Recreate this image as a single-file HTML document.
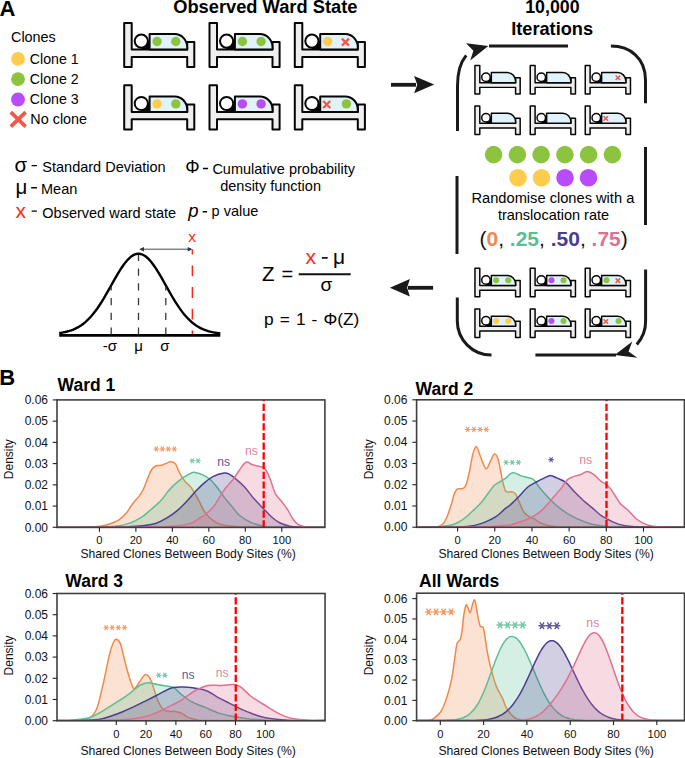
<!DOCTYPE html>
<html><head><meta charset="utf-8"><style>
html,body{margin:0;padding:0;background:#fff;}
svg{display:block;}
text{font-family:"Liberation Sans", sans-serif;}
</style></head><body>
<svg width="685" height="758" viewBox="0 0 685 758">
<rect width="685" height="758" fill="#fff"/>
<text x="-0.4" y="16.1" font-size="22" font-weight="bold" fill="#000" text-anchor="start" >A</text>
<text x="265.3" y="13.3" font-size="18.3" font-weight="bold" fill="#000" text-anchor="middle" >Observed Ward State</text>
<text x="11" y="41.7" font-size="14.4" font-weight="normal" fill="#000" text-anchor="start" >Clones</text>
<circle cx="18" cy="58.9" r="6.9" fill="#FFCC4D"/>
<text x="29.8" y="63.8" font-size="14.2" font-weight="normal" fill="#000" text-anchor="start" >Clone 1</text>
<circle cx="18" cy="79.2" r="6.9" fill="#8CC43F"/>
<text x="29.8" y="84.10000000000001" font-size="14.2" font-weight="normal" fill="#000" text-anchor="start" >Clone 2</text>
<circle cx="18" cy="99.5" r="6.9" fill="#B94CFA"/>
<text x="29.8" y="104.4" font-size="14.2" font-weight="normal" fill="#000" text-anchor="start" >Clone 3</text>
<path d="M10.8,112.2 L25.6,126.6 M25.6,112.2 L10.8,126.6" stroke="#F2574A" stroke-width="3.7"/>
<text x="30.3" y="123.5" font-size="14.4" font-weight="normal" fill="#000" text-anchor="start" >No clone</text>
<g transform="translate(123.5,21.9) scale(1.0)"><path d="M0.70,1.00 L8.20,1.00 L8.20,27.70 L63.70,27.70 L63.70,20.10 L70.80,20.10 L70.80,45.10 L63.70,45.10 L63.70,35.00 L8.20,35.00 L8.20,45.10 L0.70,45.10 Z" fill="#EFEFEF" stroke="#050505" stroke-width="2.0" stroke-linejoin="round"/><rect x="17.8" y="19.2" width="9" height="8.5" fill="#050505"/><path d="M26.1,27.7 L26.1,12.1 L51.1,12.1 A12.6,13.3 0 0 1 63.7,25.4 L63.7,27.7 Z" fill="#E1F3FA" stroke="#050505" stroke-width="2.0" stroke-linejoin="round"/><circle cx="17.8" cy="19.2" r="6.6" fill="#fff" stroke="#050505" stroke-width="2.0"/><circle cx="33.6" cy="19.6" r="4.7" fill="#8CC43F"/><circle cx="52.3" cy="19.6" r="4.7" fill="#8CC43F"/></g>
<g transform="translate(208.8,21.9) scale(1.0)"><path d="M0.70,1.00 L8.20,1.00 L8.20,27.70 L63.70,27.70 L63.70,20.10 L70.80,20.10 L70.80,45.10 L63.70,45.10 L63.70,35.00 L8.20,35.00 L8.20,45.10 L0.70,45.10 Z" fill="#EFEFEF" stroke="#050505" stroke-width="2.0" stroke-linejoin="round"/><rect x="17.8" y="19.2" width="9" height="8.5" fill="#050505"/><path d="M26.1,27.7 L26.1,12.1 L51.1,12.1 A12.6,13.3 0 0 1 63.7,25.4 L63.7,27.7 Z" fill="#E1F3FA" stroke="#050505" stroke-width="2.0" stroke-linejoin="round"/><circle cx="17.8" cy="19.2" r="6.6" fill="#fff" stroke="#050505" stroke-width="2.0"/><circle cx="33.6" cy="19.6" r="4.7" fill="#8CC43F"/><circle cx="52.3" cy="19.6" r="4.7" fill="#8CC43F"/></g>
<g transform="translate(294.1,21.9) scale(1.0)"><path d="M0.70,1.00 L8.20,1.00 L8.20,27.70 L63.70,27.70 L63.70,20.10 L70.80,20.10 L70.80,45.10 L63.70,45.10 L63.70,35.00 L8.20,35.00 L8.20,45.10 L0.70,45.10 Z" fill="#EFEFEF" stroke="#050505" stroke-width="2.0" stroke-linejoin="round"/><rect x="17.8" y="19.2" width="9" height="8.5" fill="#050505"/><path d="M26.1,27.7 L26.1,12.1 L51.1,12.1 A12.6,13.3 0 0 1 63.7,25.4 L63.7,27.7 Z" fill="#E1F3FA" stroke="#050505" stroke-width="2.0" stroke-linejoin="round"/><circle cx="17.8" cy="19.2" r="6.6" fill="#fff" stroke="#050505" stroke-width="2.0"/><circle cx="33.6" cy="19.6" r="4.7" fill="#FFCC4D"/><path d="M47.80,16.70 L54.80,23.70 M54.80,16.70 L47.80,23.70" stroke="#F2574A" stroke-width="2.3" stroke-linecap="butt"/></g>
<g transform="translate(123.5,84.3) scale(1.0)"><path d="M0.70,1.00 L8.20,1.00 L8.20,27.70 L63.70,27.70 L63.70,20.10 L70.80,20.10 L70.80,45.10 L63.70,45.10 L63.70,35.00 L8.20,35.00 L8.20,45.10 L0.70,45.10 Z" fill="#EFEFEF" stroke="#050505" stroke-width="2.0" stroke-linejoin="round"/><rect x="17.8" y="19.2" width="9" height="8.5" fill="#050505"/><path d="M26.1,27.7 L26.1,12.1 L51.1,12.1 A12.6,13.3 0 0 1 63.7,25.4 L63.7,27.7 Z" fill="#E1F3FA" stroke="#050505" stroke-width="2.0" stroke-linejoin="round"/><circle cx="17.8" cy="19.2" r="6.6" fill="#fff" stroke="#050505" stroke-width="2.0"/><circle cx="33.6" cy="19.6" r="4.7" fill="#FFCC4D"/><circle cx="52.3" cy="19.6" r="4.7" fill="#8CC43F"/></g>
<g transform="translate(208.8,84.3) scale(1.0)"><path d="M0.70,1.00 L8.20,1.00 L8.20,27.70 L63.70,27.70 L63.70,20.10 L70.80,20.10 L70.80,45.10 L63.70,45.10 L63.70,35.00 L8.20,35.00 L8.20,45.10 L0.70,45.10 Z" fill="#EFEFEF" stroke="#050505" stroke-width="2.0" stroke-linejoin="round"/><rect x="17.8" y="19.2" width="9" height="8.5" fill="#050505"/><path d="M26.1,27.7 L26.1,12.1 L51.1,12.1 A12.6,13.3 0 0 1 63.7,25.4 L63.7,27.7 Z" fill="#E1F3FA" stroke="#050505" stroke-width="2.0" stroke-linejoin="round"/><circle cx="17.8" cy="19.2" r="6.6" fill="#fff" stroke="#050505" stroke-width="2.0"/><circle cx="33.6" cy="19.6" r="4.7" fill="#B94CFA"/><circle cx="52.3" cy="19.6" r="4.7" fill="#B94CFA"/></g>
<g transform="translate(294.1,84.3) scale(1.0)"><path d="M0.70,1.00 L8.20,1.00 L8.20,27.70 L63.70,27.70 L63.70,20.10 L70.80,20.10 L70.80,45.10 L63.70,45.10 L63.70,35.00 L8.20,35.00 L8.20,45.10 L0.70,45.10 Z" fill="#EFEFEF" stroke="#050505" stroke-width="2.0" stroke-linejoin="round"/><rect x="17.8" y="19.2" width="9" height="8.5" fill="#050505"/><path d="M26.1,27.7 L26.1,12.1 L51.1,12.1 A12.6,13.3 0 0 1 63.7,25.4 L63.7,27.7 Z" fill="#E1F3FA" stroke="#050505" stroke-width="2.0" stroke-linejoin="round"/><circle cx="17.8" cy="19.2" r="6.6" fill="#fff" stroke="#050505" stroke-width="2.0"/><path d="M29.10,16.70 L36.10,23.70 M36.10,16.70 L29.10,23.70" stroke="#F2574A" stroke-width="2.3" stroke-linecap="butt"/><circle cx="52.3" cy="19.6" r="4.7" fill="#8CC43F"/></g>
<path d="M391,84.8 L416,84.8" stroke="#1a1a1a" stroke-width="3.8"/>
<path d="M434.2,84.6 L414.1,76 L417.3,84.8 L414.1,93.3 Z" fill="#1a1a1a"/>
<path d="M408,287.8 L433.1,287.8" stroke="#1a1a1a" stroke-width="3.8"/>
<path d="M389.9,287.8 L409.9,279 L407.1,287.8 L409.9,296.6 Z" fill="#1a1a1a"/>
<text x="552.4" y="13.2" font-size="17.8" font-weight="bold" fill="#000" text-anchor="middle" >10,000</text>
<text x="552.1" y="34.7" font-size="18.2" font-weight="bold" fill="#000" text-anchor="middle" >Iterations</text>
<path d="M489,46.1 L568,46.1" stroke="#1a1a1a" stroke-width="3.0" fill="none"/>
<path d="M457.5,131 L457.5,86 C457.5,72 460.3,62.5 466.2,55.4" stroke="#1a1a1a" stroke-width="3.0" fill="none"/>
<path d="M488.3,46.1 L466.1,43.2 L473.4,50.7 L470.2,60.4 Z" fill="#1a1a1a"/>
<path d="M610.9,46.1 C630,46.1 645.5,58 645.5,80 L645.5,103.3" stroke="#1a1a1a" stroke-width="3.0" fill="none"/>
<path d="M645.5,147 L645.5,225" stroke="#1a1a1a" stroke-width="3.0" fill="none"/>
<path d="M457.0,176 L457.0,254" stroke="#1a1a1a" stroke-width="3.0" fill="none"/>
<path d="M645.6,269.4 L645.6,321.1 A34,34 0 0 1 636.8,344.4" stroke="#1a1a1a" stroke-width="3.0" fill="none"/>
<path d="M457.3,297.4 L457.3,321.1 A34,34 0 0 0 491.3,355.1 L491.5,355.1" stroke="#1a1a1a" stroke-width="3.0" fill="none"/>
<path d="M535.4,355.1 L616,355.1" stroke="#1a1a1a" stroke-width="3.0" fill="none"/>
<path d="M614.7,354.9 L632.3,341.4 L628.5,351.5 L637.4,357.8 Z" fill="#1a1a1a"/>
<g transform="translate(474.5,64.8) scale(0.645)"><path d="M0.70,1.00 L8.20,1.00 L8.20,27.70 L63.70,27.70 L63.70,20.10 L70.80,20.10 L70.80,45.10 L63.70,45.10 L63.70,35.00 L8.20,35.00 L8.20,45.10 L0.70,45.10 Z" fill="#EFEFEF" stroke="#050505" stroke-width="2.3" stroke-linejoin="round"/><rect x="17.8" y="19.2" width="9" height="8.5" fill="#050505"/><path d="M26.1,27.7 L26.1,12.1 L51.1,12.1 A12.6,13.3 0 0 1 63.7,25.4 L63.7,27.7 Z" fill="#E1F3FA" stroke="#050505" stroke-width="2.3" stroke-linejoin="round"/><circle cx="17.8" cy="19.2" r="6.6" fill="#fff" stroke="#050505" stroke-width="2.3"/></g>
<g transform="translate(529.8,64.8) scale(0.645)"><path d="M0.70,1.00 L8.20,1.00 L8.20,27.70 L63.70,27.70 L63.70,20.10 L70.80,20.10 L70.80,45.10 L63.70,45.10 L63.70,35.00 L8.20,35.00 L8.20,45.10 L0.70,45.10 Z" fill="#EFEFEF" stroke="#050505" stroke-width="2.3" stroke-linejoin="round"/><rect x="17.8" y="19.2" width="9" height="8.5" fill="#050505"/><path d="M26.1,27.7 L26.1,12.1 L51.1,12.1 A12.6,13.3 0 0 1 63.7,25.4 L63.7,27.7 Z" fill="#E1F3FA" stroke="#050505" stroke-width="2.3" stroke-linejoin="round"/><circle cx="17.8" cy="19.2" r="6.6" fill="#fff" stroke="#050505" stroke-width="2.3"/></g>
<g transform="translate(584.8,64.8) scale(0.645)"><path d="M0.70,1.00 L8.20,1.00 L8.20,27.70 L63.70,27.70 L63.70,20.10 L70.80,20.10 L70.80,45.10 L63.70,45.10 L63.70,35.00 L8.20,35.00 L8.20,45.10 L0.70,45.10 Z" fill="#EFEFEF" stroke="#050505" stroke-width="2.3" stroke-linejoin="round"/><rect x="17.8" y="19.2" width="9" height="8.5" fill="#050505"/><path d="M26.1,27.7 L26.1,12.1 L51.1,12.1 A12.6,13.3 0 0 1 63.7,25.4 L63.7,27.7 Z" fill="#E1F3FA" stroke="#050505" stroke-width="2.3" stroke-linejoin="round"/><circle cx="17.8" cy="19.2" r="6.6" fill="#fff" stroke="#050505" stroke-width="2.3"/><path d="M47.80,16.70 L54.80,23.70 M54.80,16.70 L47.80,23.70" stroke="#F2574A" stroke-width="2.3" stroke-linecap="butt"/></g>
<g transform="translate(474.5,105.4) scale(0.645)"><path d="M0.70,1.00 L8.20,1.00 L8.20,27.70 L63.70,27.70 L63.70,20.10 L70.80,20.10 L70.80,45.10 L63.70,45.10 L63.70,35.00 L8.20,35.00 L8.20,45.10 L0.70,45.10 Z" fill="#EFEFEF" stroke="#050505" stroke-width="2.3" stroke-linejoin="round"/><rect x="17.8" y="19.2" width="9" height="8.5" fill="#050505"/><path d="M26.1,27.7 L26.1,12.1 L51.1,12.1 A12.6,13.3 0 0 1 63.7,25.4 L63.7,27.7 Z" fill="#E1F3FA" stroke="#050505" stroke-width="2.3" stroke-linejoin="round"/><circle cx="17.8" cy="19.2" r="6.6" fill="#fff" stroke="#050505" stroke-width="2.3"/></g>
<g transform="translate(529.8,105.4) scale(0.645)"><path d="M0.70,1.00 L8.20,1.00 L8.20,27.70 L63.70,27.70 L63.70,20.10 L70.80,20.10 L70.80,45.10 L63.70,45.10 L63.70,35.00 L8.20,35.00 L8.20,45.10 L0.70,45.10 Z" fill="#EFEFEF" stroke="#050505" stroke-width="2.3" stroke-linejoin="round"/><rect x="17.8" y="19.2" width="9" height="8.5" fill="#050505"/><path d="M26.1,27.7 L26.1,12.1 L51.1,12.1 A12.6,13.3 0 0 1 63.7,25.4 L63.7,27.7 Z" fill="#E1F3FA" stroke="#050505" stroke-width="2.3" stroke-linejoin="round"/><circle cx="17.8" cy="19.2" r="6.6" fill="#fff" stroke="#050505" stroke-width="2.3"/></g>
<g transform="translate(584.8,105.4) scale(0.645)"><path d="M0.70,1.00 L8.20,1.00 L8.20,27.70 L63.70,27.70 L63.70,20.10 L70.80,20.10 L70.80,45.10 L63.70,45.10 L63.70,35.00 L8.20,35.00 L8.20,45.10 L0.70,45.10 Z" fill="#EFEFEF" stroke="#050505" stroke-width="2.3" stroke-linejoin="round"/><rect x="17.8" y="19.2" width="9" height="8.5" fill="#050505"/><path d="M26.1,27.7 L26.1,12.1 L51.1,12.1 A12.6,13.3 0 0 1 63.7,25.4 L63.7,27.7 Z" fill="#E1F3FA" stroke="#050505" stroke-width="2.3" stroke-linejoin="round"/><circle cx="17.8" cy="19.2" r="6.6" fill="#fff" stroke="#050505" stroke-width="2.3"/><path d="M29.10,16.70 L36.10,23.70 M36.10,16.70 L29.10,23.70" stroke="#F2574A" stroke-width="2.3" stroke-linecap="butt"/></g>
<g transform="translate(474.5,267.6) scale(0.645)"><path d="M0.70,1.00 L8.20,1.00 L8.20,27.70 L63.70,27.70 L63.70,20.10 L70.80,20.10 L70.80,45.10 L63.70,45.10 L63.70,35.00 L8.20,35.00 L8.20,45.10 L0.70,45.10 Z" fill="#EFEFEF" stroke="#050505" stroke-width="2.3" stroke-linejoin="round"/><rect x="17.8" y="19.2" width="9" height="8.5" fill="#050505"/><path d="M26.1,27.7 L26.1,12.1 L51.1,12.1 A12.6,13.3 0 0 1 63.7,25.4 L63.7,27.7 Z" fill="#E1F3FA" stroke="#050505" stroke-width="2.3" stroke-linejoin="round"/><circle cx="17.8" cy="19.2" r="6.6" fill="#fff" stroke="#050505" stroke-width="2.3"/><circle cx="33.6" cy="19.6" r="4.7" fill="#8CC43F"/><circle cx="52.3" cy="19.6" r="4.7" fill="#8CC43F"/></g>
<g transform="translate(529.8,267.6) scale(0.645)"><path d="M0.70,1.00 L8.20,1.00 L8.20,27.70 L63.70,27.70 L63.70,20.10 L70.80,20.10 L70.80,45.10 L63.70,45.10 L63.70,35.00 L8.20,35.00 L8.20,45.10 L0.70,45.10 Z" fill="#EFEFEF" stroke="#050505" stroke-width="2.3" stroke-linejoin="round"/><rect x="17.8" y="19.2" width="9" height="8.5" fill="#050505"/><path d="M26.1,27.7 L26.1,12.1 L51.1,12.1 A12.6,13.3 0 0 1 63.7,25.4 L63.7,27.7 Z" fill="#E1F3FA" stroke="#050505" stroke-width="2.3" stroke-linejoin="round"/><circle cx="17.8" cy="19.2" r="6.6" fill="#fff" stroke="#050505" stroke-width="2.3"/><circle cx="33.6" cy="19.6" r="4.7" fill="#B94CFA"/><circle cx="52.3" cy="19.6" r="4.7" fill="#8CC43F"/></g>
<g transform="translate(584.8,267.6) scale(0.645)"><path d="M0.70,1.00 L8.20,1.00 L8.20,27.70 L63.70,27.70 L63.70,20.10 L70.80,20.10 L70.80,45.10 L63.70,45.10 L63.70,35.00 L8.20,35.00 L8.20,45.10 L0.70,45.10 Z" fill="#EFEFEF" stroke="#050505" stroke-width="2.3" stroke-linejoin="round"/><rect x="17.8" y="19.2" width="9" height="8.5" fill="#050505"/><path d="M26.1,27.7 L26.1,12.1 L51.1,12.1 A12.6,13.3 0 0 1 63.7,25.4 L63.7,27.7 Z" fill="#E1F3FA" stroke="#050505" stroke-width="2.3" stroke-linejoin="round"/><circle cx="17.8" cy="19.2" r="6.6" fill="#fff" stroke="#050505" stroke-width="2.3"/><circle cx="33.6" cy="19.6" r="4.7" fill="#8CC43F"/><path d="M47.80,16.70 L54.80,23.70 M54.80,16.70 L47.80,23.70" stroke="#F2574A" stroke-width="2.3" stroke-linecap="butt"/></g>
<g transform="translate(474.5,308.4) scale(0.645)"><path d="M0.70,1.00 L8.20,1.00 L8.20,27.70 L63.70,27.70 L63.70,20.10 L70.80,20.10 L70.80,45.10 L63.70,45.10 L63.70,35.00 L8.20,35.00 L8.20,45.10 L0.70,45.10 Z" fill="#EFEFEF" stroke="#050505" stroke-width="2.3" stroke-linejoin="round"/><rect x="17.8" y="19.2" width="9" height="8.5" fill="#050505"/><path d="M26.1,27.7 L26.1,12.1 L51.1,12.1 A12.6,13.3 0 0 1 63.7,25.4 L63.7,27.7 Z" fill="#E1F3FA" stroke="#050505" stroke-width="2.3" stroke-linejoin="round"/><circle cx="17.8" cy="19.2" r="6.6" fill="#fff" stroke="#050505" stroke-width="2.3"/><circle cx="33.6" cy="19.6" r="4.7" fill="#FFCC4D"/><circle cx="52.3" cy="19.6" r="4.7" fill="#FFCC4D"/></g>
<g transform="translate(529.8,308.4) scale(0.645)"><path d="M0.70,1.00 L8.20,1.00 L8.20,27.70 L63.70,27.70 L63.70,20.10 L70.80,20.10 L70.80,45.10 L63.70,45.10 L63.70,35.00 L8.20,35.00 L8.20,45.10 L0.70,45.10 Z" fill="#EFEFEF" stroke="#050505" stroke-width="2.3" stroke-linejoin="round"/><rect x="17.8" y="19.2" width="9" height="8.5" fill="#050505"/><path d="M26.1,27.7 L26.1,12.1 L51.1,12.1 A12.6,13.3 0 0 1 63.7,25.4 L63.7,27.7 Z" fill="#E1F3FA" stroke="#050505" stroke-width="2.3" stroke-linejoin="round"/><circle cx="17.8" cy="19.2" r="6.6" fill="#fff" stroke="#050505" stroke-width="2.3"/><circle cx="33.6" cy="19.6" r="4.7" fill="#B94CFA"/><circle cx="52.3" cy="19.6" r="4.7" fill="#8CC43F"/></g>
<g transform="translate(584.8,308.4) scale(0.645)"><path d="M0.70,1.00 L8.20,1.00 L8.20,27.70 L63.70,27.70 L63.70,20.10 L70.80,20.10 L70.80,45.10 L63.70,45.10 L63.70,35.00 L8.20,35.00 L8.20,45.10 L0.70,45.10 Z" fill="#EFEFEF" stroke="#050505" stroke-width="2.3" stroke-linejoin="round"/><rect x="17.8" y="19.2" width="9" height="8.5" fill="#050505"/><path d="M26.1,27.7 L26.1,12.1 L51.1,12.1 A12.6,13.3 0 0 1 63.7,25.4 L63.7,27.7 Z" fill="#E1F3FA" stroke="#050505" stroke-width="2.3" stroke-linejoin="round"/><circle cx="17.8" cy="19.2" r="6.6" fill="#fff" stroke="#050505" stroke-width="2.3"/><path d="M29.10,16.70 L36.10,23.70 M36.10,16.70 L29.10,23.70" stroke="#F2574A" stroke-width="2.3" stroke-linecap="butt"/><circle cx="52.3" cy="19.6" r="4.7" fill="#8CC43F"/></g>
<circle cx="493.6" cy="154.6" r="8.8" fill="#8CC43F"/>
<circle cx="517.4" cy="154.6" r="8.8" fill="#8CC43F"/>
<circle cx="541.1" cy="154.6" r="8.8" fill="#8CC43F"/>
<circle cx="564.9" cy="154.6" r="8.8" fill="#8CC43F"/>
<circle cx="588.6" cy="154.6" r="8.8" fill="#8CC43F"/>
<circle cx="612.4" cy="154.6" r="8.8" fill="#8CC43F"/>
<circle cx="518.0" cy="177.8" r="8.8" fill="#FFCC4D"/>
<circle cx="541.5" cy="177.8" r="8.8" fill="#FFCC4D"/>
<circle cx="565.0" cy="177.8" r="8.8" fill="#B94CFA"/>
<circle cx="588.5" cy="177.8" r="8.8" fill="#B94CFA"/>
<text x="552.9" y="203.3" font-size="14.65" font-weight="normal" fill="#000" text-anchor="middle" >Randomise clones with a</text>
<text x="553.5" y="220.3" font-size="14.5" font-weight="normal" fill="#000" text-anchor="middle" >translocation rate</text>
<text x="553.6" y="245.6" font-size="21" text-anchor="middle" fill="#111">(<tspan fill="#F08A4B" font-weight="bold">0</tspan>, <tspan fill="#5BBF96" font-weight="bold">.25</tspan>, <tspan fill="#4A3E8E" font-weight="bold">.50</tspan>, <tspan fill="#E07090" font-weight="bold">.75</tspan>)</text>
<text x="14.6" y="171.9" font-size="20.5" font-weight="normal" fill="#000" text-anchor="start" >σ</text>
<text x="42.3" y="171.6" font-size="14.5" font-weight="normal" fill="#000" text-anchor="start" >Standard Deviation</text>
<text x="15.4" y="193.9" font-size="20.5" font-weight="normal" fill="#000" text-anchor="start" >μ</text>
<text x="41.0" y="193.7" font-size="14.5" font-weight="normal" fill="#000" text-anchor="start" >Mean</text>
<text x="15.4" y="217.6" font-size="21" font-weight="normal" fill="#FA2A12" text-anchor="start" >x</text>
<text x="42.3" y="217.5" font-size="14.5" font-weight="normal" fill="#000" text-anchor="start" >Observed ward state</text>
<path d="M31.6,165.6 L36.9,165.6 M31.2,187.7 L36.9,187.7 M31.6,211.1 L36.9,211.1 M203,168.5 L208.1,168.5 M202.7,211.7 L207.1,211.7" stroke="#000" stroke-width="1.35"/>
<text x="185.2" y="173.4" font-size="18" font-weight="normal" fill="#000" text-anchor="start" >Φ</text>
<text x="212.4" y="173.6" font-size="14.5" font-weight="normal" fill="#000" text-anchor="start" >Cumulative probability</text>
<text x="220.2" y="191.3" font-size="14.5" font-weight="normal" fill="#000" text-anchor="start" >density function</text>
<text x="188.3" y="217" font-size="18.5" font-style="italic" fill="#000">p</text>
<text x="211.6" y="216" font-size="14.5" font-weight="normal" fill="#000" text-anchor="start" >p value</text>
<path d="M59.20,333.02 L61.21,332.74 L63.23,332.40 L65.24,332.00 L67.26,331.53 L69.27,330.97 L71.28,330.32 L73.30,329.55 L75.31,328.67 L77.32,327.66 L79.34,326.51 L81.35,325.20 L83.37,323.73 L85.38,322.08 L87.39,320.24 L89.41,318.22 L91.42,316.00 L93.43,313.59 L95.45,310.99 L97.46,308.19 L99.48,305.22 L101.49,302.09 L103.50,298.81 L105.52,295.40 L107.53,291.90 L109.54,288.33 L111.56,284.73 L113.57,281.14 L115.59,277.60 L117.60,274.15 L119.61,270.83 L121.63,267.70 L123.64,264.78 L125.65,262.14 L127.67,259.79 L129.68,257.79 L131.69,256.16 L133.71,254.93 L135.72,254.12 L137.74,253.73 L139.75,253.78 L141.76,254.27 L143.78,255.19 L145.79,256.52 L147.81,258.24 L149.82,260.33 L151.83,262.75 L153.85,265.46 L155.86,268.44 L157.87,271.62 L159.89,274.97 L161.90,278.45 L163.92,282.01 L165.93,285.60 L167.94,289.20 L169.96,292.75 L171.97,296.23 L173.98,299.61 L176.00,302.86 L178.01,305.95 L180.03,308.88 L182.04,311.63 L184.05,314.19 L186.07,316.56 L188.08,318.73 L190.09,320.70 L192.11,322.49 L194.12,324.10 L196.13,325.53 L198.15,326.80 L200.16,327.92 L202.18,328.90 L204.19,329.75 L206.20,330.48 L208.22,331.11 L210.23,331.65 L212.25,332.10 L214.26,332.49 L216.27,332.81 L218.29,333.08 L220.30,333.30" stroke="#000" stroke-width="2.4" fill="none"/>
<path d="M59.2,335.4 L220.3,335.4" stroke="#000" stroke-width="2.8"/>
<path d="M111.2,334.6 L111.2,286.4" stroke="#3a3a3a" stroke-width="1.3" stroke-dasharray="7.2,7.5"/>
<path d="M138.5,334.6 L138.5,254.7" stroke="#3a3a3a" stroke-width="1.3" stroke-dasharray="7.2,7.5"/>
<path d="M165.8,334.6 L165.8,286.4" stroke="#3a3a3a" stroke-width="1.3" stroke-dasharray="7.2,7.5"/>
<path d="M192.4,249.2 L192.4,334" stroke="#F52A1A" stroke-width="1.5" stroke-dasharray="10.8,10.9" stroke-dashoffset="5.5"/>
<path d="M140.5,249.2 L191,249.2" stroke="#333" stroke-width="0.9"/>
<path d="M139.3,249.2 L144,247 L144,251.4 Z M192.4,249.2 L187.7,247 L187.7,251.4 Z" fill="#333"/>
<text x="192.2" y="242.1" font-size="15.5" font-weight="normal" fill="#FA2A12" text-anchor="middle" >x</text>
<text x="109.8" y="350.6" font-size="15" font-weight="normal" fill="#000" text-anchor="middle" >-σ</text>
<text x="138.6" y="350.6" font-size="15" font-weight="normal" fill="#000" text-anchor="middle" >μ</text>
<text x="165.0" y="350.6" font-size="15" font-weight="normal" fill="#000" text-anchor="middle" >σ</text>
<text x="262" y="281.2" font-size="20.5" font-weight="normal" fill="#000" text-anchor="start" >Z</text>
<text x="281.5" y="281.2" font-size="20" font-weight="normal" fill="#000" text-anchor="start" >=</text>
<path d="M298.7,274.2 L350.7,274.2" stroke="#111" stroke-width="2"/>
<text x="305.6" y="263.7" font-size="21" font-weight="normal" fill="#FA2A12" text-anchor="start" >x</text>
<path d="M321.9,257.9 L327.7,257.9" stroke="#000" stroke-width="1.6"/>
<text x="333.0" y="263.6" font-size="21" font-weight="normal" fill="#000" text-anchor="start" >μ</text>
<text x="320.5" y="291.2" font-size="19" font-weight="normal" fill="#000" text-anchor="start" >σ</text>
<text x="264" y="325" font-size="17.3" word-spacing="1.3" fill="#000">p = 1 - Φ(Z)</text>
<text x="-0.7" y="385.0" font-size="22" font-weight="bold" fill="#000" text-anchor="start" >B</text>
<defs><clipPath id="cp0"><rect x="57.0" y="399.9" width="267.9" height="127.5"/></clipPath></defs>
<g clip-path="url(#cp0)">
<path d="M52.00,527.20 C56.25,527.20 70.83,527.24 77.51,527.20 C84.20,527.16 88.36,527.13 92.10,526.99 C95.84,526.85 97.15,526.81 99.95,526.36 C102.74,525.90 105.72,525.34 108.88,524.25 C112.05,523.17 116.03,521.66 118.92,519.83 C121.80,518.01 124.02,515.87 126.21,513.31 C128.40,510.75 129.86,507.38 132.05,504.47 C134.24,501.55 137.40,498.50 139.35,495.84 C141.29,493.17 142.23,491.63 143.72,488.47 C145.21,485.31 146.95,480.05 148.28,476.89 C149.62,473.73 150.44,471.38 151.75,469.52 C153.06,467.66 154.55,466.44 156.13,465.73 C157.71,465.03 159.65,465.66 161.23,465.31 C162.81,464.96 164.03,464.23 165.61,463.63 C167.19,463.03 169.11,461.73 170.72,461.73 C172.33,461.73 173.79,461.73 175.28,463.63 C176.77,465.52 178.08,470.19 179.66,473.10 C181.24,476.01 182.94,478.79 184.76,481.10 C186.59,483.42 188.90,484.92 190.60,486.99 C192.30,489.06 193.52,491.10 194.98,493.52 C196.44,495.94 197.90,498.71 199.36,501.52 C200.81,504.33 202.03,507.66 203.73,510.36 C205.44,513.06 207.38,515.66 209.57,517.73 C211.76,519.80 214.43,521.52 216.87,522.78 C219.30,524.04 221.49,524.71 224.16,525.31 C226.84,525.90 229.39,526.08 232.92,526.36 C236.44,526.64 240.21,526.85 245.32,526.99 C250.43,527.13 249.46,527.16 263.56,527.20 C277.66,527.24 318.84,527.20 329.90,527.20 L329.9,527.2 L52.0,527.2 Z" fill="#F08A4B" fill-opacity="0.25" stroke="none"/>
<path d="M52.00,527.20 C56.25,527.20 70.83,527.24 77.51,527.20 C84.20,527.16 88.36,527.13 92.10,526.99 C95.84,526.85 97.15,526.81 99.95,526.36 C102.74,525.90 105.72,525.34 108.88,524.25 C112.05,523.17 116.03,521.66 118.92,519.83 C121.80,518.01 124.02,515.87 126.21,513.31 C128.40,510.75 129.86,507.38 132.05,504.47 C134.24,501.55 137.40,498.50 139.35,495.84 C141.29,493.17 142.23,491.63 143.72,488.47 C145.21,485.31 146.95,480.05 148.28,476.89 C149.62,473.73 150.44,471.38 151.75,469.52 C153.06,467.66 154.55,466.44 156.13,465.73 C157.71,465.03 159.65,465.66 161.23,465.31 C162.81,464.96 164.03,464.23 165.61,463.63 C167.19,463.03 169.11,461.73 170.72,461.73 C172.33,461.73 173.79,461.73 175.28,463.63 C176.77,465.52 178.08,470.19 179.66,473.10 C181.24,476.01 182.94,478.79 184.76,481.10 C186.59,483.42 188.90,484.92 190.60,486.99 C192.30,489.06 193.52,491.10 194.98,493.52 C196.44,495.94 197.90,498.71 199.36,501.52 C200.81,504.33 202.03,507.66 203.73,510.36 C205.44,513.06 207.38,515.66 209.57,517.73 C211.76,519.80 214.43,521.52 216.87,522.78 C219.30,524.04 221.49,524.71 224.16,525.31 C226.84,525.90 229.39,526.08 232.92,526.36 C236.44,526.64 240.21,526.85 245.32,526.99 C250.43,527.13 249.46,527.16 263.56,527.20 C277.66,527.24 318.84,527.20 329.90,527.20" fill="none" stroke="#F08A4B" stroke-width="1.5" stroke-linejoin="round"/>
<path d="M52.00,527.20 C56.86,527.20 73.26,527.24 81.16,527.20 C89.06,527.16 93.84,527.13 99.40,526.99 C104.96,526.85 109.58,526.95 114.54,526.36 C119.49,525.76 124.75,524.85 129.13,523.41 C133.51,521.97 137.16,520.04 140.80,517.73 C144.45,515.41 147.61,512.43 151.02,509.52 C154.42,506.61 158.32,503.38 161.23,500.26 C164.15,497.13 166.10,493.59 168.53,490.78 C170.96,487.98 173.39,485.63 175.83,483.42 C178.26,481.21 180.42,479.31 183.12,477.52 C185.83,475.73 189.90,473.49 192.06,472.68 C194.22,471.87 194.37,472.36 196.07,472.68 C197.77,473.00 200.02,473.52 202.27,474.58 C204.52,475.63 207.14,476.93 209.57,479.00 C212.00,481.07 214.43,483.98 216.87,486.99 C219.30,490.01 221.73,493.94 224.16,497.10 C226.59,500.26 229.03,502.99 231.46,505.94 C233.89,508.89 236.32,512.47 238.75,514.78 C241.19,517.10 243.62,518.39 246.05,519.83 C248.48,521.27 250.43,522.36 253.35,523.41 C256.26,524.46 259.43,525.55 263.56,526.15 C267.69,526.74 272.07,526.81 278.15,526.99 C284.23,527.16 291.42,527.16 300.04,527.20 C308.66,527.24 324.92,527.20 329.90,527.20 L329.9,527.2 L52.0,527.2 Z" fill="#5BBF96" fill-opacity="0.25" stroke="none"/>
<path d="M52.00,527.20 C56.86,527.20 73.26,527.24 81.16,527.20 C89.06,527.16 93.84,527.13 99.40,526.99 C104.96,526.85 109.58,526.95 114.54,526.36 C119.49,525.76 124.75,524.85 129.13,523.41 C133.51,521.97 137.16,520.04 140.80,517.73 C144.45,515.41 147.61,512.43 151.02,509.52 C154.42,506.61 158.32,503.38 161.23,500.26 C164.15,497.13 166.10,493.59 168.53,490.78 C170.96,487.98 173.39,485.63 175.83,483.42 C178.26,481.21 180.42,479.31 183.12,477.52 C185.83,475.73 189.90,473.49 192.06,472.68 C194.22,471.87 194.37,472.36 196.07,472.68 C197.77,473.00 200.02,473.52 202.27,474.58 C204.52,475.63 207.14,476.93 209.57,479.00 C212.00,481.07 214.43,483.98 216.87,486.99 C219.30,490.01 221.73,493.94 224.16,497.10 C226.59,500.26 229.03,502.99 231.46,505.94 C233.89,508.89 236.32,512.47 238.75,514.78 C241.19,517.10 243.62,518.39 246.05,519.83 C248.48,521.27 250.43,522.36 253.35,523.41 C256.26,524.46 259.43,525.55 263.56,526.15 C267.69,526.74 272.07,526.81 278.15,526.99 C284.23,527.16 291.42,527.16 300.04,527.20 C308.66,527.24 324.92,527.20 329.90,527.20" fill="none" stroke="#5BBF96" stroke-width="1.5" stroke-linejoin="round"/>
<path d="M52.00,527.20 C61.42,527.20 96.97,527.24 108.52,527.20 C120.07,527.16 116.64,527.13 121.29,526.99 C125.94,526.85 130.71,526.95 136.43,526.36 C142.14,525.76 150.44,524.85 155.58,523.41 C160.72,521.97 163.60,519.90 167.25,517.73 C170.90,515.55 174.06,513.27 177.47,510.36 C180.87,507.45 184.76,503.31 187.68,500.26 C190.60,497.20 192.30,494.85 194.98,492.05 C197.65,489.24 200.81,485.94 203.73,483.42 C206.65,480.89 209.08,478.61 212.49,476.89 C215.89,475.17 221.24,473.49 224.16,473.10 C227.08,472.72 228.05,473.59 230.00,474.58 C231.94,475.56 233.40,476.93 235.84,479.00 C238.27,481.07 241.67,483.84 244.59,486.99 C247.51,490.15 250.40,494.54 253.35,497.94 C256.29,501.34 259.36,504.36 262.28,507.41 C265.20,510.47 267.97,513.69 270.86,516.25 C273.74,518.82 276.45,521.13 279.61,522.78 C282.77,524.43 286.42,525.45 289.83,526.15 C293.23,526.85 295.91,526.81 300.04,526.99 C304.17,527.16 309.66,527.16 314.63,527.20 C319.61,527.24 327.36,527.20 329.90,527.20 L329.9,527.2 L52.0,527.2 Z" fill="#4A3E8E" fill-opacity="0.25" stroke="none"/>
<path d="M52.00,527.20 C61.42,527.20 96.97,527.24 108.52,527.20 C120.07,527.16 116.64,527.13 121.29,526.99 C125.94,526.85 130.71,526.95 136.43,526.36 C142.14,525.76 150.44,524.85 155.58,523.41 C160.72,521.97 163.60,519.90 167.25,517.73 C170.90,515.55 174.06,513.27 177.47,510.36 C180.87,507.45 184.76,503.31 187.68,500.26 C190.60,497.20 192.30,494.85 194.98,492.05 C197.65,489.24 200.81,485.94 203.73,483.42 C206.65,480.89 209.08,478.61 212.49,476.89 C215.89,475.17 221.24,473.49 224.16,473.10 C227.08,472.72 228.05,473.59 230.00,474.58 C231.94,475.56 233.40,476.93 235.84,479.00 C238.27,481.07 241.67,483.84 244.59,486.99 C247.51,490.15 250.40,494.54 253.35,497.94 C256.29,501.34 259.36,504.36 262.28,507.41 C265.20,510.47 267.97,513.69 270.86,516.25 C273.74,518.82 276.45,521.13 279.61,522.78 C282.77,524.43 286.42,525.45 289.83,526.15 C293.23,526.85 295.91,526.81 300.04,526.99 C304.17,527.16 309.66,527.16 314.63,527.20 C319.61,527.24 327.36,527.20 329.90,527.20" fill="none" stroke="#4A3E8E" stroke-width="1.5" stroke-linejoin="round"/>
<path d="M52.00,527.20 C67.50,527.20 127.07,527.24 145.00,527.20 C162.93,527.16 154.91,527.13 159.59,526.99 C164.27,526.85 167.92,526.95 173.09,526.36 C178.26,525.76 186.10,524.85 190.60,523.41 C195.10,521.97 197.71,519.13 200.08,517.73 C202.46,516.32 202.52,516.96 204.83,514.99 C207.14,513.03 210.72,510.11 213.95,505.94 C217.17,501.76 221.00,494.33 224.16,489.94 C227.32,485.56 230.48,482.78 232.92,479.63 C235.35,476.47 236.56,473.91 238.75,471.00 C240.94,468.08 243.86,463.24 246.05,462.16 C248.24,461.07 249.70,463.77 251.89,464.47 C254.08,465.17 257.36,465.91 259.18,466.37 C261.01,466.82 261.61,466.44 262.83,467.21 C264.05,467.98 265.20,468.86 266.48,471.00 C267.76,473.14 269.03,476.33 270.49,480.05 C271.95,483.77 273.41,489.77 275.23,493.31 C277.06,496.85 279.40,498.64 281.44,501.31 C283.47,503.97 285.57,506.40 287.45,509.31 C289.34,512.22 290.98,516.25 292.74,518.78 C294.51,521.31 296.00,523.13 298.03,524.46 C300.07,525.80 302.20,526.32 304.96,526.78 C307.73,527.24 310.48,527.13 314.63,527.20 C318.79,527.27 327.36,527.20 329.90,527.20 L329.9,527.2 L52.0,527.2 Z" fill="#E07090" fill-opacity="0.25" stroke="none"/>
<path d="M52.00,527.20 C67.50,527.20 127.07,527.24 145.00,527.20 C162.93,527.16 154.91,527.13 159.59,526.99 C164.27,526.85 167.92,526.95 173.09,526.36 C178.26,525.76 186.10,524.85 190.60,523.41 C195.10,521.97 197.71,519.13 200.08,517.73 C202.46,516.32 202.52,516.96 204.83,514.99 C207.14,513.03 210.72,510.11 213.95,505.94 C217.17,501.76 221.00,494.33 224.16,489.94 C227.32,485.56 230.48,482.78 232.92,479.63 C235.35,476.47 236.56,473.91 238.75,471.00 C240.94,468.08 243.86,463.24 246.05,462.16 C248.24,461.07 249.70,463.77 251.89,464.47 C254.08,465.17 257.36,465.91 259.18,466.37 C261.01,466.82 261.61,466.44 262.83,467.21 C264.05,467.98 265.20,468.86 266.48,471.00 C267.76,473.14 269.03,476.33 270.49,480.05 C271.95,483.77 273.41,489.77 275.23,493.31 C277.06,496.85 279.40,498.64 281.44,501.31 C283.47,503.97 285.57,506.40 287.45,509.31 C289.34,512.22 290.98,516.25 292.74,518.78 C294.51,521.31 296.00,523.13 298.03,524.46 C300.07,525.80 302.20,526.32 304.96,526.78 C307.73,527.24 310.48,527.13 314.63,527.20 C318.79,527.27 327.36,527.20 329.90,527.20" fill="none" stroke="#E07090" stroke-width="1.5" stroke-linejoin="round"/>
</g>
<path d="M263.7,527.4 L263.7,399.9" stroke="#F00" stroke-width="2.3" stroke-dasharray="7.2,2.5"/>
<rect x="57.0" y="399.9" width="267.9" height="127.5" fill="none" stroke="#404040" stroke-width="1.6"/>
<path d="M52.7,527.30 L57.0,527.30" stroke="#222" stroke-width="1.1"/>
<text x="48.0" y="531.50" font-size="12" text-anchor="end" fill="#111">0.00</text>
<path d="M52.7,506.07 L57.0,506.07" stroke="#222" stroke-width="1.1"/>
<text x="48.0" y="510.27" font-size="12" text-anchor="end" fill="#111">0.01</text>
<path d="M52.7,484.84 L57.0,484.84" stroke="#222" stroke-width="1.1"/>
<text x="48.0" y="489.04" font-size="12" text-anchor="end" fill="#111">0.02</text>
<path d="M52.7,463.61 L57.0,463.61" stroke="#222" stroke-width="1.1"/>
<text x="48.0" y="467.81" font-size="12" text-anchor="end" fill="#111">0.03</text>
<path d="M52.7,442.38 L57.0,442.38" stroke="#222" stroke-width="1.1"/>
<text x="48.0" y="446.58" font-size="12" text-anchor="end" fill="#111">0.04</text>
<path d="M52.7,421.15 L57.0,421.15" stroke="#222" stroke-width="1.1"/>
<text x="48.0" y="425.35" font-size="12" text-anchor="end" fill="#111">0.05</text>
<path d="M52.7,399.92 L57.0,399.92" stroke="#222" stroke-width="1.1"/>
<text x="48.0" y="404.12" font-size="12" text-anchor="end" fill="#111">0.06</text>
<path d="M99.40,527.4 L99.40,531.6999999999999" stroke="#222" stroke-width="1.1"/>
<text x="99.40" y="544.3" font-size="11.2" text-anchor="middle" fill="#111">0</text>
<path d="M135.88,527.4 L135.88,531.6999999999999" stroke="#222" stroke-width="1.1"/>
<text x="135.88" y="544.3" font-size="11.2" text-anchor="middle" fill="#111">20</text>
<path d="M172.36,527.4 L172.36,531.6999999999999" stroke="#222" stroke-width="1.1"/>
<text x="172.36" y="544.3" font-size="11.2" text-anchor="middle" fill="#111">40</text>
<path d="M208.84,527.4 L208.84,531.6999999999999" stroke="#222" stroke-width="1.1"/>
<text x="208.84" y="544.3" font-size="11.2" text-anchor="middle" fill="#111">60</text>
<path d="M245.32,527.4 L245.32,531.6999999999999" stroke="#222" stroke-width="1.1"/>
<text x="245.32" y="544.3" font-size="11.2" text-anchor="middle" fill="#111">80</text>
<path d="M281.80,527.4 L281.80,531.6999999999999" stroke="#222" stroke-width="1.1"/>
<text x="281.80" y="544.3" font-size="11.2" text-anchor="middle" fill="#111">100</text>
<text x="188.1" y="557.7" font-size="12.2" text-anchor="middle" fill="#111">Shared Clones Between Body Sites (%)</text>
<text transform="translate(12.5,459.2) rotate(-90)" font-size="12" text-anchor="middle" fill="#111">Density</text>
<text x="57.6" y="391.0" font-size="17.5" font-weight="bold" fill="#000">Ward 1</text>
<path d="M154.00,449.00 L158.60,449.00 M155.00,446.90 L157.60,451.10 M157.60,446.90 L155.00,451.10 M160.00,449.00 L164.60,449.00 M161.00,446.90 L163.60,451.10 M163.60,446.90 L161.00,451.10 M166.00,449.00 L170.60,449.00 M167.00,446.90 L169.60,451.10 M169.60,446.90 L167.00,451.10 M172.00,449.00 L176.60,449.00 M173.00,446.90 L175.60,451.10 M175.60,446.90 L173.00,451.10" stroke="#F08A4B" stroke-opacity="0.85" stroke-width="1.05" stroke-linecap="round" fill="none"/>
<path d="M189.90,460.80 L194.50,460.80 M190.90,458.70 L193.50,462.90 M193.50,458.70 L190.90,462.90 M195.80,460.80 L200.40,460.80 M196.80,458.70 L199.40,462.90 M199.40,458.70 L196.80,462.90" stroke="#5BBF96" stroke-opacity="0.85" stroke-width="1.05" stroke-linecap="round" fill="none"/>
<text x="223.6" y="466.3" font-size="12.2" text-anchor="middle" fill="#4A3E8E" fill-opacity="0.9">ns</text>
<text x="251.5" y="454.6" font-size="12.2" text-anchor="middle" fill="#E07090" fill-opacity="0.9">ns</text>
<defs><clipPath id="cp1"><rect x="416.6" y="399.8" width="267.79999999999995" height="127.49999999999994"/></clipPath></defs>
<g clip-path="url(#cp1)">
<path d="M411.60,527.10 C413.07,527.10 416.22,527.14 420.42,527.10 C424.62,527.06 433.06,527.38 436.78,526.89 C440.50,526.40 441.02,525.80 442.73,524.15 C444.43,522.49 445.55,520.38 447.00,516.97 C448.46,513.56 450.23,507.58 451.47,503.68 C452.70,499.78 453.48,495.98 454.44,493.55 C455.40,491.12 456.02,489.93 457.23,489.12 C458.44,488.31 460.33,489.19 461.69,488.70 C463.05,488.21 464.17,488.77 465.41,486.17 C466.65,483.56 467.89,478.43 469.13,473.08 C470.37,467.74 471.64,458.53 472.84,454.09 C474.05,449.66 475.17,446.25 476.38,446.50 C477.58,446.74 478.51,451.88 480.09,455.57 C481.67,459.26 484.15,467.67 485.86,468.65 C487.56,469.64 488.89,463.91 490.32,461.48 C491.74,459.05 493.08,454.34 494.41,454.09 C495.74,453.85 496.92,455.40 498.31,460.00 C499.71,464.61 501.53,476.53 502.77,481.74 C504.01,486.94 504.51,489.54 505.75,491.23 C506.99,492.92 508.97,491.72 510.21,491.86 C511.45,492.00 512.19,491.55 513.18,492.07 C514.18,492.60 515.14,493.34 516.16,495.03 C517.18,496.72 518.08,499.42 519.32,502.20 C520.56,504.98 521.89,509.24 523.59,511.70 C525.30,514.16 527.81,515.81 529.54,516.97 C531.28,518.13 532.30,517.71 534.00,518.66 C535.71,519.61 537.57,521.58 539.77,522.67 C541.97,523.76 544.26,524.50 547.20,525.20 C550.15,525.90 553.77,526.57 557.43,526.89 C561.08,527.21 547.14,527.06 569.14,527.10 C591.14,527.14 669.36,527.10 689.40,527.10 L689.4,527.1 L411.6,527.1 Z" fill="#F08A4B" fill-opacity="0.25" stroke="none"/>
<path d="M411.60,527.10 C413.07,527.10 416.22,527.14 420.42,527.10 C424.62,527.06 433.06,527.38 436.78,526.89 C440.50,526.40 441.02,525.80 442.73,524.15 C444.43,522.49 445.55,520.38 447.00,516.97 C448.46,513.56 450.23,507.58 451.47,503.68 C452.70,499.78 453.48,495.98 454.44,493.55 C455.40,491.12 456.02,489.93 457.23,489.12 C458.44,488.31 460.33,489.19 461.69,488.70 C463.05,488.21 464.17,488.77 465.41,486.17 C466.65,483.56 467.89,478.43 469.13,473.08 C470.37,467.74 471.64,458.53 472.84,454.09 C474.05,449.66 475.17,446.25 476.38,446.50 C477.58,446.74 478.51,451.88 480.09,455.57 C481.67,459.26 484.15,467.67 485.86,468.65 C487.56,469.64 488.89,463.91 490.32,461.48 C491.74,459.05 493.08,454.34 494.41,454.09 C495.74,453.85 496.92,455.40 498.31,460.00 C499.71,464.61 501.53,476.53 502.77,481.74 C504.01,486.94 504.51,489.54 505.75,491.23 C506.99,492.92 508.97,491.72 510.21,491.86 C511.45,492.00 512.19,491.55 513.18,492.07 C514.18,492.60 515.14,493.34 516.16,495.03 C517.18,496.72 518.08,499.42 519.32,502.20 C520.56,504.98 521.89,509.24 523.59,511.70 C525.30,514.16 527.81,515.81 529.54,516.97 C531.28,518.13 532.30,517.71 534.00,518.66 C535.71,519.61 537.57,521.58 539.77,522.67 C541.97,523.76 544.26,524.50 547.20,525.20 C550.15,525.90 553.77,526.57 557.43,526.89 C561.08,527.21 547.14,527.06 569.14,527.10 C591.14,527.14 669.36,527.10 689.40,527.10" fill="none" stroke="#F08A4B" stroke-width="1.5" stroke-linejoin="round"/>
<path d="M411.60,527.10 C413.07,527.10 416.22,527.14 420.42,527.10 C424.62,527.06 431.60,527.24 436.78,526.89 C441.95,526.54 447.81,525.80 451.47,524.99 C455.12,524.18 456.27,523.37 458.72,522.04 C461.16,520.70 463.70,518.94 466.15,516.97 C468.60,515.00 470.95,512.54 473.40,510.22 C475.85,507.90 478.39,505.82 480.84,503.05 C483.29,500.27 485.89,496.47 488.09,493.55 C490.29,490.63 492.05,487.50 494.04,485.53 C496.02,483.56 498.03,482.97 499.99,481.74 C501.94,480.50 503.98,479.48 505.75,478.15 C507.51,476.81 509.09,474.60 510.58,473.72 C512.07,472.84 513.03,472.56 514.67,472.87 C516.31,473.19 518.27,474.84 520.43,475.62 C522.60,476.39 525.48,476.85 527.68,477.52 C529.88,478.18 531.65,477.94 533.63,479.62 C535.62,481.31 537.35,484.86 539.58,487.64 C541.81,490.42 544.54,493.62 547.02,496.29 C549.50,498.97 552.01,501.46 554.45,503.68 C556.90,505.89 559.26,507.76 561.70,509.59 C564.15,511.42 566.20,512.96 569.14,514.65 C572.08,516.34 575.71,518.17 579.36,519.72 C583.02,521.26 586.92,522.84 591.08,523.94 C595.23,525.03 599.26,525.73 604.28,526.26 C609.29,526.78 607.00,526.96 621.19,527.10 C635.38,527.24 678.03,527.10 689.40,527.10 L689.4,527.1 L411.6,527.1 Z" fill="#5BBF96" fill-opacity="0.25" stroke="none"/>
<path d="M411.60,527.10 C413.07,527.10 416.22,527.14 420.42,527.10 C424.62,527.06 431.60,527.24 436.78,526.89 C441.95,526.54 447.81,525.80 451.47,524.99 C455.12,524.18 456.27,523.37 458.72,522.04 C461.16,520.70 463.70,518.94 466.15,516.97 C468.60,515.00 470.95,512.54 473.40,510.22 C475.85,507.90 478.39,505.82 480.84,503.05 C483.29,500.27 485.89,496.47 488.09,493.55 C490.29,490.63 492.05,487.50 494.04,485.53 C496.02,483.56 498.03,482.97 499.99,481.74 C501.94,480.50 503.98,479.48 505.75,478.15 C507.51,476.81 509.09,474.60 510.58,473.72 C512.07,472.84 513.03,472.56 514.67,472.87 C516.31,473.19 518.27,474.84 520.43,475.62 C522.60,476.39 525.48,476.85 527.68,477.52 C529.88,478.18 531.65,477.94 533.63,479.62 C535.62,481.31 537.35,484.86 539.58,487.64 C541.81,490.42 544.54,493.62 547.02,496.29 C549.50,498.97 552.01,501.46 554.45,503.68 C556.90,505.89 559.26,507.76 561.70,509.59 C564.15,511.42 566.20,512.96 569.14,514.65 C572.08,516.34 575.71,518.17 579.36,519.72 C583.02,521.26 586.92,522.84 591.08,523.94 C595.23,525.03 599.26,525.73 604.28,526.26 C609.29,526.78 607.00,526.96 621.19,527.10 C635.38,527.24 678.03,527.10 689.40,527.10" fill="none" stroke="#5BBF96" stroke-width="1.5" stroke-linejoin="round"/>
<path d="M411.60,527.10 C416.79,527.10 434.88,527.14 442.73,527.10 C450.58,527.06 453.60,527.14 458.72,526.89 C463.83,526.64 469.22,526.33 473.40,525.62 C477.58,524.92 480.12,524.11 483.81,522.67 C487.50,521.23 491.87,519.40 495.52,516.97 C499.18,514.55 503.30,510.11 505.75,508.11 C508.20,506.11 507.98,506.91 510.21,504.95 C512.44,502.98 516.19,499.28 519.13,496.29 C522.08,493.30 524.93,489.44 527.87,487.01 C530.81,484.58 534.10,483.21 536.79,481.74 C539.49,480.26 541.75,479.17 544.04,478.15 C546.34,477.13 548.35,475.62 550.55,475.62 C552.75,475.62 554.67,476.99 557.24,478.15 C559.81,479.31 563.07,480.26 565.98,482.58 C568.89,484.90 571.77,489.05 574.72,492.07 C577.66,495.10 580.67,498.05 583.64,500.73 C586.61,503.40 589.62,505.61 592.56,508.11 C595.51,510.61 598.70,513.81 601.30,515.71 C603.90,517.61 605.17,518.06 608.18,519.50 C611.18,520.95 615.40,523.20 619.33,524.36 C623.27,525.52 626.21,526.01 631.79,526.47 C637.37,526.92 643.19,526.99 652.80,527.10 C662.40,527.21 683.30,527.10 689.40,527.10 L689.4,527.1 L411.6,527.1 Z" fill="#4A3E8E" fill-opacity="0.25" stroke="none"/>
<path d="M411.60,527.10 C416.79,527.10 434.88,527.14 442.73,527.10 C450.58,527.06 453.60,527.14 458.72,526.89 C463.83,526.64 469.22,526.33 473.40,525.62 C477.58,524.92 480.12,524.11 483.81,522.67 C487.50,521.23 491.87,519.40 495.52,516.97 C499.18,514.55 503.30,510.11 505.75,508.11 C508.20,506.11 507.98,506.91 510.21,504.95 C512.44,502.98 516.19,499.28 519.13,496.29 C522.08,493.30 524.93,489.44 527.87,487.01 C530.81,484.58 534.10,483.21 536.79,481.74 C539.49,480.26 541.75,479.17 544.04,478.15 C546.34,477.13 548.35,475.62 550.55,475.62 C552.75,475.62 554.67,476.99 557.24,478.15 C559.81,479.31 563.07,480.26 565.98,482.58 C568.89,484.90 571.77,489.05 574.72,492.07 C577.66,495.10 580.67,498.05 583.64,500.73 C586.61,503.40 589.62,505.61 592.56,508.11 C595.51,510.61 598.70,513.81 601.30,515.71 C603.90,517.61 605.17,518.06 608.18,519.50 C611.18,520.95 615.40,523.20 619.33,524.36 C623.27,525.52 626.21,526.01 631.79,526.47 C637.37,526.92 643.19,526.99 652.80,527.10 C662.40,527.21 683.30,527.10 689.40,527.10" fill="none" stroke="#4A3E8E" stroke-width="1.5" stroke-linejoin="round"/>
<path d="M411.60,527.10 C420.82,527.10 454.15,527.17 466.90,527.10 C479.64,527.03 482.11,526.92 488.09,526.68 C494.07,526.43 499.09,525.90 502.77,525.62 C506.46,525.34 507.02,525.73 510.21,524.99 C513.40,524.25 518.23,522.53 521.92,521.19 C525.61,519.86 528.89,518.91 532.33,516.97 C535.77,515.04 538.90,513.03 542.56,509.59 C546.21,506.14 551.08,499.95 554.27,496.29 C557.46,492.64 559.50,490.42 561.70,487.64 C563.90,484.86 565.51,481.45 567.47,479.62 C569.42,477.80 571.22,477.52 573.42,476.67 C575.62,475.83 578.37,475.44 580.67,474.56 C582.96,473.68 584.97,471.40 587.17,471.40 C589.37,471.40 591.54,472.91 593.86,474.56 C596.19,476.21 599.13,479.73 601.11,481.31 C603.10,482.90 604.15,482.75 605.76,484.06 C607.37,485.36 609.14,487.05 610.78,489.12 C612.42,491.19 613.97,494.04 615.62,496.50 C617.26,498.97 618.56,501.60 620.63,503.89 C622.71,506.18 625.59,507.83 628.07,510.22 C630.55,512.61 633.00,516.09 635.51,518.24 C638.02,520.38 640.22,521.75 643.13,523.09 C646.04,524.43 649.20,525.59 652.98,526.26 C656.76,526.92 659.74,526.96 665.81,527.10 C671.88,527.24 685.47,527.10 689.40,527.10 L689.4,527.1 L411.6,527.1 Z" fill="#E07090" fill-opacity="0.25" stroke="none"/>
<path d="M411.60,527.10 C420.82,527.10 454.15,527.17 466.90,527.10 C479.64,527.03 482.11,526.92 488.09,526.68 C494.07,526.43 499.09,525.90 502.77,525.62 C506.46,525.34 507.02,525.73 510.21,524.99 C513.40,524.25 518.23,522.53 521.92,521.19 C525.61,519.86 528.89,518.91 532.33,516.97 C535.77,515.04 538.90,513.03 542.56,509.59 C546.21,506.14 551.08,499.95 554.27,496.29 C557.46,492.64 559.50,490.42 561.70,487.64 C563.90,484.86 565.51,481.45 567.47,479.62 C569.42,477.80 571.22,477.52 573.42,476.67 C575.62,475.83 578.37,475.44 580.67,474.56 C582.96,473.68 584.97,471.40 587.17,471.40 C589.37,471.40 591.54,472.91 593.86,474.56 C596.19,476.21 599.13,479.73 601.11,481.31 C603.10,482.90 604.15,482.75 605.76,484.06 C607.37,485.36 609.14,487.05 610.78,489.12 C612.42,491.19 613.97,494.04 615.62,496.50 C617.26,498.97 618.56,501.60 620.63,503.89 C622.71,506.18 625.59,507.83 628.07,510.22 C630.55,512.61 633.00,516.09 635.51,518.24 C638.02,520.38 640.22,521.75 643.13,523.09 C646.04,524.43 649.20,525.59 652.98,526.26 C656.76,526.92 659.74,526.96 665.81,527.10 C671.88,527.24 685.47,527.10 689.40,527.10" fill="none" stroke="#E07090" stroke-width="1.5" stroke-linejoin="round"/>
</g>
<path d="M606.5,527.3 L606.5,399.8" stroke="#F00" stroke-width="2.3" stroke-dasharray="7.2,2.5"/>
<rect x="416.6" y="399.8" width="267.79999999999995" height="127.49999999999994" fill="none" stroke="#404040" stroke-width="1.6"/>
<path d="M412.3,527.20 L416.6,527.20" stroke="#222" stroke-width="1.1"/>
<text x="407.4" y="531.40" font-size="12" text-anchor="end" fill="#111">0.00</text>
<path d="M412.3,505.97 L416.6,505.97" stroke="#222" stroke-width="1.1"/>
<text x="407.4" y="510.17" font-size="12" text-anchor="end" fill="#111">0.01</text>
<path d="M412.3,484.74 L416.6,484.74" stroke="#222" stroke-width="1.1"/>
<text x="407.4" y="488.94" font-size="12" text-anchor="end" fill="#111">0.02</text>
<path d="M412.3,463.51 L416.6,463.51" stroke="#222" stroke-width="1.1"/>
<text x="407.4" y="467.71" font-size="12" text-anchor="end" fill="#111">0.03</text>
<path d="M412.3,442.28 L416.6,442.28" stroke="#222" stroke-width="1.1"/>
<text x="407.4" y="446.48" font-size="12" text-anchor="end" fill="#111">0.04</text>
<path d="M412.3,421.05 L416.6,421.05" stroke="#222" stroke-width="1.1"/>
<text x="407.4" y="425.25" font-size="12" text-anchor="end" fill="#111">0.05</text>
<path d="M412.3,399.82 L416.6,399.82" stroke="#222" stroke-width="1.1"/>
<text x="407.4" y="404.02" font-size="12" text-anchor="end" fill="#111">0.06</text>
<path d="M457.60,527.3 L457.60,531.5999999999999" stroke="#222" stroke-width="1.1"/>
<text x="457.60" y="544.3" font-size="11.2" text-anchor="middle" fill="#111">0</text>
<path d="M494.78,527.3 L494.78,531.5999999999999" stroke="#222" stroke-width="1.1"/>
<text x="494.78" y="544.3" font-size="11.2" text-anchor="middle" fill="#111">20</text>
<path d="M531.96,527.3 L531.96,531.5999999999999" stroke="#222" stroke-width="1.1"/>
<text x="531.96" y="544.3" font-size="11.2" text-anchor="middle" fill="#111">40</text>
<path d="M569.14,527.3 L569.14,531.5999999999999" stroke="#222" stroke-width="1.1"/>
<text x="569.14" y="544.3" font-size="11.2" text-anchor="middle" fill="#111">60</text>
<path d="M606.32,527.3 L606.32,531.5999999999999" stroke="#222" stroke-width="1.1"/>
<text x="606.32" y="544.3" font-size="11.2" text-anchor="middle" fill="#111">80</text>
<path d="M643.50,527.3 L643.50,531.5999999999999" stroke="#222" stroke-width="1.1"/>
<text x="643.50" y="544.3" font-size="11.2" text-anchor="middle" fill="#111">100</text>
<text x="546.1" y="557.9" font-size="12.2" text-anchor="middle" fill="#111">Shared Clones Between Body Sites (%)</text>
<text transform="translate(372.5,459.3) rotate(-90)" font-size="12" text-anchor="middle" fill="#111">Density</text>
<text x="415.6" y="394.9" font-size="17.5" font-weight="bold" fill="#000">Ward 2</text>
<path d="M465.40,429.40 L470.00,429.40 M466.40,427.30 L469.00,431.50 M469.00,427.30 L466.40,431.50 M471.60,429.40 L476.20,429.40 M472.60,427.30 L475.20,431.50 M475.20,427.30 L472.60,431.50 M477.80,429.40 L482.40,429.40 M478.80,427.30 L481.40,431.50 M481.40,427.30 L478.80,431.50 M484.00,429.40 L488.60,429.40 M485.00,427.30 L487.60,431.50 M487.60,427.30 L485.00,431.50" stroke="#F08A4B" stroke-opacity="0.85" stroke-width="1.05" stroke-linecap="round" fill="none"/>
<path d="M503.80,462.30 L508.40,462.30 M504.80,460.20 L507.40,464.40 M507.40,460.20 L504.80,464.40 M509.95,462.30 L514.55,462.30 M510.95,460.20 L513.55,464.40 M513.55,460.20 L510.95,464.40 M516.10,462.30 L520.70,462.30 M517.10,460.20 L519.70,464.40 M519.70,460.20 L517.10,464.40" stroke="#5BBF96" stroke-opacity="0.85" stroke-width="1.05" stroke-linecap="round" fill="none"/>
<path d="M548.80,459.60 L553.40,459.60 M549.80,457.50 L552.40,461.70 M552.40,457.50 L549.80,461.70" stroke="#4A3E8E" stroke-opacity="0.85" stroke-width="1.05" stroke-linecap="round" fill="none"/>
<text x="585.7" y="464.1" font-size="12.2" text-anchor="middle" fill="#E07090" fill-opacity="0.9">ns</text>
<defs><clipPath id="cp2"><rect x="57.0" y="593.5" width="268.05" height="127.29999999999995"/></clipPath></defs>
<g clip-path="url(#cp2)">
<path d="M52.00,720.60 C54.02,720.60 59.34,720.71 64.15,720.60 C68.96,720.49 76.37,720.56 80.84,719.96 C85.31,719.36 88.26,719.00 90.97,716.98 C93.68,714.96 95.02,713.46 97.08,707.82 C99.14,702.18 101.28,691.99 103.34,683.11 C105.40,674.24 107.76,661.39 109.45,654.57 C111.13,647.75 112.30,644.77 113.47,642.22 C114.64,639.66 115.26,638.88 116.45,639.23 C117.64,639.59 119.08,640.09 120.62,644.35 C122.16,648.61 123.80,657.98 125.69,664.79 C127.57,671.61 130.41,681.34 131.94,685.24 C133.48,689.15 133.58,688.90 134.93,688.22 C136.27,687.55 138.18,683.47 139.99,681.20 C141.80,678.92 143.91,674.59 145.80,674.59 C147.69,674.59 149.38,677.04 151.31,681.20 C153.25,685.35 155.39,694.76 157.42,699.51 C159.46,704.27 161.32,707.75 163.53,709.74 C165.74,711.72 168.77,711.16 170.69,711.44 C172.60,711.73 173.19,711.16 175.01,711.44 C176.82,711.73 179.38,712.15 181.56,713.14 C183.75,714.14 185.56,716.30 188.12,717.40 C190.68,718.51 193.48,719.22 196.91,719.75 C200.34,720.28 186.49,720.46 208.68,720.60 C230.87,720.74 309.82,720.60 330.05,720.60 L330.05,720.6 L52.0,720.6 Z" fill="#F08A4B" fill-opacity="0.25" stroke="none"/>
<path d="M52.00,720.60 C54.02,720.60 59.34,720.71 64.15,720.60 C68.96,720.49 76.37,720.56 80.84,719.96 C85.31,719.36 88.26,719.00 90.97,716.98 C93.68,714.96 95.02,713.46 97.08,707.82 C99.14,702.18 101.28,691.99 103.34,683.11 C105.40,674.24 107.76,661.39 109.45,654.57 C111.13,647.75 112.30,644.77 113.47,642.22 C114.64,639.66 115.26,638.88 116.45,639.23 C117.64,639.59 119.08,640.09 120.62,644.35 C122.16,648.61 123.80,657.98 125.69,664.79 C127.57,671.61 130.41,681.34 131.94,685.24 C133.48,689.15 133.58,688.90 134.93,688.22 C136.27,687.55 138.18,683.47 139.99,681.20 C141.80,678.92 143.91,674.59 145.80,674.59 C147.69,674.59 149.38,677.04 151.31,681.20 C153.25,685.35 155.39,694.76 157.42,699.51 C159.46,704.27 161.32,707.75 163.53,709.74 C165.74,711.72 168.77,711.16 170.69,711.44 C172.60,711.73 173.19,711.16 175.01,711.44 C176.82,711.73 179.38,712.15 181.56,713.14 C183.75,714.14 185.56,716.30 188.12,717.40 C190.68,718.51 193.48,719.22 196.91,719.75 C200.34,720.28 186.49,720.46 208.68,720.60 C230.87,720.74 309.82,720.60 330.05,720.60" fill="none" stroke="#F08A4B" stroke-width="1.5" stroke-linejoin="round"/>
<path d="M52.00,720.60 C53.28,720.60 56.59,720.64 59.68,720.60 C62.77,720.56 65.69,720.85 70.56,720.39 C75.42,719.93 83.77,719.25 88.88,717.83 C94.00,716.41 96.46,714.57 101.25,711.87 C106.04,709.17 112.87,704.73 117.64,701.64 C122.41,698.55 126.13,696.07 129.86,693.34 C133.58,690.60 136.94,687.02 139.99,685.24 C143.05,683.47 145.11,682.76 148.19,682.69 C151.27,682.62 154.72,684.14 158.47,684.82 C162.22,685.49 167.93,686.13 170.69,686.73 C173.44,687.34 173.19,687.12 175.01,688.44 C176.82,689.75 178.66,692.31 181.56,694.61 C184.47,696.92 188.42,700.12 192.44,702.28 C196.46,704.45 201.30,705.80 205.70,707.61 C210.10,709.42 214.44,711.69 218.81,713.14 C223.18,714.60 227.18,715.42 231.92,716.34 C236.67,717.26 242.18,718.08 247.27,718.68 C252.36,719.29 256.98,719.64 262.47,719.96 C267.96,720.28 268.94,720.49 280.20,720.60 C291.46,720.71 321.74,720.60 330.05,720.60 L330.05,720.6 L52.0,720.6 Z" fill="#5BBF96" fill-opacity="0.25" stroke="none"/>
<path d="M52.00,720.60 C53.28,720.60 56.59,720.64 59.68,720.60 C62.77,720.56 65.69,720.85 70.56,720.39 C75.42,719.93 83.77,719.25 88.88,717.83 C94.00,716.41 96.46,714.57 101.25,711.87 C106.04,709.17 112.87,704.73 117.64,701.64 C122.41,698.55 126.13,696.07 129.86,693.34 C133.58,690.60 136.94,687.02 139.99,685.24 C143.05,683.47 145.11,682.76 148.19,682.69 C151.27,682.62 154.72,684.14 158.47,684.82 C162.22,685.49 167.93,686.13 170.69,686.73 C173.44,687.34 173.19,687.12 175.01,688.44 C176.82,689.75 178.66,692.31 181.56,694.61 C184.47,696.92 188.42,700.12 192.44,702.28 C196.46,704.45 201.30,705.80 205.70,707.61 C210.10,709.42 214.44,711.69 218.81,713.14 C223.18,714.60 227.18,715.42 231.92,716.34 C236.67,717.26 242.18,718.08 247.27,718.68 C252.36,719.29 256.98,719.64 262.47,719.96 C267.96,720.28 268.94,720.49 280.20,720.60 C291.46,720.71 321.74,720.60 330.05,720.60" fill="none" stroke="#5BBF96" stroke-width="1.5" stroke-linejoin="round"/>
<path d="M52.00,720.60 C54.02,720.60 59.34,720.64 64.15,720.60 C68.96,720.56 74.65,720.67 80.84,720.39 C87.02,720.10 95.12,720.00 101.25,718.90 C107.38,717.80 112.53,715.67 117.64,713.78 C122.76,711.90 127.18,709.81 131.94,707.61 C136.71,705.41 141.83,702.78 146.25,700.58 C150.67,698.38 154.39,696.46 158.47,694.40 C162.54,692.34 167.53,689.43 170.69,688.22 C173.84,687.02 175.20,687.37 177.39,687.16 C179.58,686.95 180.54,686.73 183.80,686.95 C187.05,687.16 192.91,687.73 196.91,688.44 C200.91,689.15 204.14,689.64 207.79,691.21 C211.44,692.77 215.16,695.79 218.81,697.81 C222.46,699.83 226.06,701.50 229.69,703.35 C233.31,705.19 236.57,707.07 240.57,708.88 C244.56,710.70 249.28,712.68 253.68,714.21 C258.07,715.74 261.82,717.09 266.94,718.04 C272.05,719.00 278.44,719.53 284.37,719.96 C290.31,720.39 294.94,720.49 302.55,720.60 C310.16,720.71 325.47,720.60 330.05,720.60 L330.05,720.6 L52.0,720.6 Z" fill="#4A3E8E" fill-opacity="0.25" stroke="none"/>
<path d="M52.00,720.60 C54.02,720.60 59.34,720.64 64.15,720.60 C68.96,720.56 74.65,720.67 80.84,720.39 C87.02,720.10 95.12,720.00 101.25,718.90 C107.38,717.80 112.53,715.67 117.64,713.78 C122.76,711.90 127.18,709.81 131.94,707.61 C136.71,705.41 141.83,702.78 146.25,700.58 C150.67,698.38 154.39,696.46 158.47,694.40 C162.54,692.34 167.53,689.43 170.69,688.22 C173.84,687.02 175.20,687.37 177.39,687.16 C179.58,686.95 180.54,686.73 183.80,686.95 C187.05,687.16 192.91,687.73 196.91,688.44 C200.91,689.15 204.14,689.64 207.79,691.21 C211.44,692.77 215.16,695.79 218.81,697.81 C222.46,699.83 226.06,701.50 229.69,703.35 C233.31,705.19 236.57,707.07 240.57,708.88 C244.56,710.70 249.28,712.68 253.68,714.21 C258.07,715.74 261.82,717.09 266.94,718.04 C272.05,719.00 278.44,719.53 284.37,719.96 C290.31,720.39 294.94,720.49 302.55,720.60 C310.16,720.71 325.47,720.60 330.05,720.60" fill="none" stroke="#4A3E8E" stroke-width="1.5" stroke-linejoin="round"/>
<path d="M52.00,720.60 C57.75,720.60 78.29,720.64 86.50,720.60 C94.71,720.56 93.68,720.67 101.25,720.39 C108.83,720.10 124.45,719.57 131.94,718.90 C139.44,718.22 141.83,717.51 146.25,716.34 C150.67,715.17 154.39,713.64 158.47,711.87 C162.54,710.09 167.11,707.50 170.69,705.69 C174.26,703.88 177.37,702.50 179.92,701.00 C182.48,699.51 183.20,698.63 186.03,696.74 C188.86,694.86 193.28,691.60 196.91,689.72 C200.53,687.83 204.14,686.17 207.79,685.46 C211.44,684.75 215.68,685.53 218.81,685.46 C221.94,685.38 224.03,685.17 226.56,685.03 C229.09,684.89 231.68,684.28 234.01,684.60 C236.34,684.92 237.64,684.92 240.57,686.95 C243.50,688.97 247.20,693.48 251.59,696.74 C255.99,700.01 262.57,703.81 266.94,706.54 C271.31,709.28 273.82,711.19 277.82,713.14 C281.81,715.10 286.18,717.12 290.93,718.26 C295.67,719.39 300.86,719.57 306.27,719.96 C311.69,720.35 319.45,720.49 323.41,720.60 C327.37,720.71 328.94,720.60 330.05,720.60 L330.05,720.6 L52.0,720.6 Z" fill="#E07090" fill-opacity="0.25" stroke="none"/>
<path d="M52.00,720.60 C57.75,720.60 78.29,720.64 86.50,720.60 C94.71,720.56 93.68,720.67 101.25,720.39 C108.83,720.10 124.45,719.57 131.94,718.90 C139.44,718.22 141.83,717.51 146.25,716.34 C150.67,715.17 154.39,713.64 158.47,711.87 C162.54,710.09 167.11,707.50 170.69,705.69 C174.26,703.88 177.37,702.50 179.92,701.00 C182.48,699.51 183.20,698.63 186.03,696.74 C188.86,694.86 193.28,691.60 196.91,689.72 C200.53,687.83 204.14,686.17 207.79,685.46 C211.44,684.75 215.68,685.53 218.81,685.46 C221.94,685.38 224.03,685.17 226.56,685.03 C229.09,684.89 231.68,684.28 234.01,684.60 C236.34,684.92 237.64,684.92 240.57,686.95 C243.50,688.97 247.20,693.48 251.59,696.74 C255.99,700.01 262.57,703.81 266.94,706.54 C271.31,709.28 273.82,711.19 277.82,713.14 C281.81,715.10 286.18,717.12 290.93,718.26 C295.67,719.39 300.86,719.57 306.27,719.96 C311.69,720.35 319.45,720.49 323.41,720.60 C327.37,720.71 328.94,720.60 330.05,720.60" fill="none" stroke="#E07090" stroke-width="1.5" stroke-linejoin="round"/>
</g>
<path d="M235.75,720.8 L235.75,593.5" stroke="#F00" stroke-width="2.3" stroke-dasharray="7.2,2.5"/>
<rect x="57.0" y="593.5" width="268.05" height="127.29999999999995" fill="none" stroke="#404040" stroke-width="1.6"/>
<path d="M52.7,720.70 L57.0,720.70" stroke="#222" stroke-width="1.1"/>
<text x="48.0" y="724.90" font-size="12" text-anchor="end" fill="#111">0.00</text>
<path d="M52.7,699.50 L57.0,699.50" stroke="#222" stroke-width="1.1"/>
<text x="48.0" y="703.70" font-size="12" text-anchor="end" fill="#111">0.01</text>
<path d="M52.7,678.30 L57.0,678.30" stroke="#222" stroke-width="1.1"/>
<text x="48.0" y="682.50" font-size="12" text-anchor="end" fill="#111">0.02</text>
<path d="M52.7,657.10 L57.0,657.10" stroke="#222" stroke-width="1.1"/>
<text x="48.0" y="661.30" font-size="12" text-anchor="end" fill="#111">0.03</text>
<path d="M52.7,635.90 L57.0,635.90" stroke="#222" stroke-width="1.1"/>
<text x="48.0" y="640.10" font-size="12" text-anchor="end" fill="#111">0.04</text>
<path d="M52.7,614.70 L57.0,614.70" stroke="#222" stroke-width="1.1"/>
<text x="48.0" y="618.90" font-size="12" text-anchor="end" fill="#111">0.05</text>
<path d="M52.7,593.50 L57.0,593.50" stroke="#222" stroke-width="1.1"/>
<text x="48.0" y="597.70" font-size="12" text-anchor="end" fill="#111">0.06</text>
<path d="M116.30,720.8 L116.30,725.0999999999999" stroke="#222" stroke-width="1.1"/>
<text x="116.30" y="737.8" font-size="11.2" text-anchor="middle" fill="#111">0</text>
<path d="M146.10,720.8 L146.10,725.0999999999999" stroke="#222" stroke-width="1.1"/>
<text x="146.10" y="737.8" font-size="11.2" text-anchor="middle" fill="#111">20</text>
<path d="M175.90,720.8 L175.90,725.0999999999999" stroke="#222" stroke-width="1.1"/>
<text x="175.90" y="737.8" font-size="11.2" text-anchor="middle" fill="#111">40</text>
<path d="M205.70,720.8 L205.70,725.0999999999999" stroke="#222" stroke-width="1.1"/>
<text x="205.70" y="737.8" font-size="11.2" text-anchor="middle" fill="#111">60</text>
<path d="M235.50,720.8 L235.50,725.0999999999999" stroke="#222" stroke-width="1.1"/>
<text x="235.50" y="737.8" font-size="11.2" text-anchor="middle" fill="#111">80</text>
<path d="M265.30,720.8 L265.30,725.0999999999999" stroke="#222" stroke-width="1.1"/>
<text x="265.30" y="737.8" font-size="11.2" text-anchor="middle" fill="#111">100</text>
<text x="188.1" y="754.7" font-size="12.2" text-anchor="middle" fill="#111">Shared Clones Between Body Sites (%)</text>
<text transform="translate(12.5,655.4) rotate(-90)" font-size="12" text-anchor="middle" fill="#111">Density</text>
<text x="65.3" y="586.6" font-size="17.5" font-weight="bold" fill="#000">Ward 3</text>
<path d="M103.80,627.70 L108.40,627.70 M104.80,625.60 L107.40,629.80 M107.40,625.60 L104.80,629.80 M109.93,627.70 L114.53,627.70 M110.93,625.60 L113.53,629.80 M113.53,625.60 L110.93,629.80 M116.06,627.70 L120.66,627.70 M117.06,625.60 L119.66,629.80 M119.66,625.60 L117.06,629.80 M122.19,627.70 L126.79,627.70 M123.19,625.60 L125.79,629.80 M125.79,625.60 L123.19,629.80" stroke="#F08A4B" stroke-opacity="0.85" stroke-width="1.05" stroke-linecap="round" fill="none"/>
<path d="M156.50,675.20 L161.10,675.20 M157.50,673.10 L160.10,677.30 M160.10,673.10 L157.50,677.30 M162.60,675.20 L167.20,675.20 M163.60,673.10 L166.20,677.30 M166.20,673.10 L163.60,677.30" stroke="#5BBF96" stroke-opacity="0.85" stroke-width="1.05" stroke-linecap="round" fill="none"/>
<text x="188.2" y="679.1" font-size="12.2" text-anchor="middle" fill="#4A3E8E" fill-opacity="0.9">ns</text>
<text x="222.1" y="677.4" font-size="12.2" text-anchor="middle" fill="#E07090" fill-opacity="0.9">ns</text>
<defs><clipPath id="cp3"><rect x="416.6" y="593.2" width="267.9" height="127.59999999999991"/></clipPath></defs>
<g clip-path="url(#cp3)">
<path d="M411.60,720.60 C412.78,720.60 415.82,720.63 418.65,720.60 C421.48,720.57 426.12,720.74 428.61,720.40 C431.10,720.06 431.53,720.06 433.59,718.57 C435.65,717.08 438.89,714.54 440.95,711.47 C443.01,708.39 444.23,705.07 445.93,700.10 C447.62,695.12 449.68,688.36 451.12,681.62 C452.57,674.89 453.61,666.03 454.59,659.70 C455.56,653.37 456.00,647.11 456.97,643.66 C457.94,640.21 459.57,641.33 460.43,638.99 C461.30,636.66 461.59,633.75 462.17,629.66 C462.74,625.56 463.25,618.52 463.90,614.43 C464.55,610.34 465.41,606.28 466.06,605.09 C466.71,603.91 467.11,606.07 467.80,607.33 C468.48,608.58 469.42,612.98 470.18,612.60 C470.93,612.23 471.66,607.22 472.34,605.09 C473.03,602.96 473.71,600.02 474.29,599.82 C474.87,599.61 475.23,601.24 475.81,603.88 C476.38,606.51 477.03,611.96 477.75,615.65 C478.48,619.34 479.27,624.07 480.14,626.00 C481.00,627.93 482.19,625.83 482.95,627.22 C483.71,628.61 484.00,630.43 484.68,634.33 C485.37,638.22 486.16,645.39 487.06,650.57 C487.97,655.74 488.58,659.50 490.10,665.38 C491.61,671.27 494.10,680.44 496.16,685.89 C498.21,691.33 500.70,694.35 502.44,698.07 C504.17,701.79 504.53,704.97 506.55,708.22 C508.57,711.47 511.85,715.56 514.56,717.56 C517.27,719.55 519.29,719.69 522.79,720.19 C526.29,720.70 507.77,720.53 535.56,720.60 C563.35,720.67 663.84,720.60 689.50,720.60 L689.5,720.6 L411.6,720.6 Z" fill="#F08A4B" fill-opacity="0.25" stroke="none"/>
<path d="M411.60,720.60 C412.78,720.60 415.82,720.63 418.65,720.60 C421.48,720.57 426.12,720.74 428.61,720.40 C431.10,720.06 431.53,720.06 433.59,718.57 C435.65,717.08 438.89,714.54 440.95,711.47 C443.01,708.39 444.23,705.07 445.93,700.10 C447.62,695.12 449.68,688.36 451.12,681.62 C452.57,674.89 453.61,666.03 454.59,659.70 C455.56,653.37 456.00,647.11 456.97,643.66 C457.94,640.21 459.57,641.33 460.43,638.99 C461.30,636.66 461.59,633.75 462.17,629.66 C462.74,625.56 463.25,618.52 463.90,614.43 C464.55,610.34 465.41,606.28 466.06,605.09 C466.71,603.91 467.11,606.07 467.80,607.33 C468.48,608.58 469.42,612.98 470.18,612.60 C470.93,612.23 471.66,607.22 472.34,605.09 C473.03,602.96 473.71,600.02 474.29,599.82 C474.87,599.61 475.23,601.24 475.81,603.88 C476.38,606.51 477.03,611.96 477.75,615.65 C478.48,619.34 479.27,624.07 480.14,626.00 C481.00,627.93 482.19,625.83 482.95,627.22 C483.71,628.61 484.00,630.43 484.68,634.33 C485.37,638.22 486.16,645.39 487.06,650.57 C487.97,655.74 488.58,659.50 490.10,665.38 C491.61,671.27 494.10,680.44 496.16,685.89 C498.21,691.33 500.70,694.35 502.44,698.07 C504.17,701.79 504.53,704.97 506.55,708.22 C508.57,711.47 511.85,715.56 514.56,717.56 C517.27,719.55 519.29,719.69 522.79,720.19 C526.29,720.70 507.77,720.53 535.56,720.60 C563.35,720.67 663.84,720.60 689.50,720.60" fill="none" stroke="#F08A4B" stroke-width="1.5" stroke-linejoin="round"/>
<path d="M411.60,720.60 C411.69,720.60 411.70,720.60 412.16,720.60 C412.61,720.60 413.60,720.60 414.32,720.60 C415.04,720.60 415.76,720.60 416.49,720.60 C417.21,720.60 417.93,720.60 418.65,720.60 C419.37,720.60 420.09,720.60 420.81,720.60 C421.54,720.60 422.26,720.60 422.98,720.60 C423.70,720.60 424.42,720.60 425.14,720.60 C425.87,720.60 426.59,720.60 427.31,720.59 C428.03,720.59 428.75,720.59 429.48,720.59 C430.20,720.59 430.92,720.59 431.64,720.59 C432.36,720.59 433.08,720.58 433.81,720.58 C434.53,720.58 435.25,720.57 435.97,720.57 C436.69,720.56 437.41,720.56 438.13,720.55 C438.86,720.55 439.58,720.54 440.30,720.53 C441.02,720.52 441.74,720.51 442.47,720.49 C443.19,720.48 443.91,720.46 444.63,720.44 C445.35,720.42 446.07,720.40 446.80,720.37 C447.52,720.34 448.24,720.31 448.96,720.27 C449.68,720.23 450.40,720.18 451.12,720.12 C451.85,720.07 452.57,720.01 453.29,719.93 C454.01,719.85 454.73,719.76 455.46,719.66 C456.18,719.55 456.90,719.43 457.62,719.29 C458.34,719.15 459.06,718.99 459.79,718.80 C460.51,718.61 461.23,718.40 461.95,718.15 C462.67,717.90 463.39,717.63 464.12,717.30 C464.84,716.98 465.56,716.62 466.28,716.20 C467.00,715.78 467.72,715.33 468.44,714.80 C469.17,714.27 469.89,713.69 470.61,713.03 C471.33,712.38 472.05,711.66 472.78,710.85 C473.50,710.04 474.22,709.16 474.94,708.19 C475.66,707.22 476.38,706.17 477.11,705.01 C477.83,703.86 478.55,702.62 479.27,701.29 C479.99,699.96 480.71,698.53 481.44,697.01 C482.16,695.50 482.88,693.89 483.60,692.20 C484.32,690.52 485.04,688.75 485.76,686.93 C486.49,685.10 487.21,683.20 487.93,681.27 C488.65,679.34 489.37,677.35 490.10,675.36 C490.82,673.38 491.54,671.34 492.26,669.35 C492.98,667.36 493.70,665.36 494.43,663.42 C495.15,661.48 495.87,659.56 496.59,657.73 C497.31,655.91 498.03,654.13 498.75,652.47 C499.48,650.81 500.20,649.23 500.92,647.78 C501.64,646.34 502.36,644.99 503.09,643.80 C503.81,642.61 504.53,641.54 505.25,640.63 C505.97,639.72 506.69,638.94 507.42,638.33 C508.14,637.71 508.86,637.24 509.58,636.93 C510.30,636.61 511.02,636.45 511.75,636.44 C512.47,636.42 513.19,636.56 513.91,636.83 C514.63,637.11 515.35,637.53 516.08,638.08 C516.80,638.62 517.52,639.31 518.24,640.11 C518.96,640.91 519.68,641.85 520.40,642.87 C521.13,643.90 521.85,645.05 522.57,646.28 C523.29,647.51 524.01,648.84 524.74,650.24 C525.46,651.63 526.18,653.13 526.90,654.66 C527.62,656.19 528.34,657.80 529.07,659.43 C529.79,661.06 530.51,662.75 531.23,664.45 C531.95,666.14 532.67,667.88 533.39,669.60 C534.12,671.32 534.84,673.06 535.56,674.78 C536.28,676.49 537.00,678.21 537.73,679.88 C538.45,681.56 539.17,683.21 539.89,684.82 C540.61,686.42 541.33,688.00 542.06,689.51 C542.78,691.02 543.50,692.49 544.22,693.90 C544.94,695.30 545.66,696.64 546.38,697.92 C547.11,699.20 547.83,700.42 548.55,701.56 C549.27,702.71 549.99,703.79 550.72,704.80 C551.44,705.82 552.16,706.76 552.88,707.64 C553.60,708.52 554.32,709.34 555.05,710.10 C555.77,710.85 556.49,711.54 557.21,712.18 C557.93,712.82 558.65,713.40 559.38,713.93 C560.10,714.47 560.82,714.94 561.54,715.38 C562.26,715.82 562.98,716.21 563.71,716.56 C564.43,716.92 565.15,717.23 565.87,717.51 C566.59,717.80 567.31,718.04 568.03,718.27 C568.76,718.49 569.48,718.68 570.20,718.86 C570.92,719.03 571.64,719.18 572.37,719.31 C573.09,719.45 573.81,719.56 574.53,719.66 C575.25,719.76 575.97,719.85 576.70,719.92 C577.42,720.00 578.14,720.06 578.86,720.12 C579.58,720.17 580.30,720.22 581.02,720.26 C581.75,720.30 582.47,720.33 583.19,720.36 C583.91,720.39 584.63,720.42 585.36,720.44 C586.08,720.46 586.80,720.47 587.52,720.49 C588.24,720.50 588.96,720.52 589.68,720.53 C590.41,720.54 591.13,720.54 591.85,720.55 C592.57,720.56 593.29,720.56 594.01,720.57 C594.74,720.57 595.46,720.58 596.18,720.58 C596.90,720.58 597.62,720.58 598.35,720.59 C599.07,720.59 599.79,720.59 600.51,720.59 C601.23,720.59 601.95,720.59 602.67,720.59 C603.40,720.60 604.12,720.60 604.84,720.60 C605.56,720.60 606.28,720.60 607.00,720.60 C607.73,720.60 608.45,720.60 609.17,720.60 C609.89,720.60 610.61,720.60 611.34,720.60 C612.06,720.60 612.78,720.60 613.50,720.60 C614.22,720.60 614.94,720.60 615.66,720.60 C616.39,720.60 617.11,720.60 617.83,720.60 C618.55,720.60 619.27,720.60 620.00,720.60 C620.72,720.60 621.44,720.60 622.16,720.60 C622.88,720.60 623.60,720.60 624.33,720.60 C625.05,720.60 625.77,720.60 626.49,720.60 C627.21,720.60 627.93,720.60 628.65,720.60 C629.38,720.60 630.10,720.60 630.82,720.60 C631.54,720.60 632.26,720.60 632.99,720.60 C633.71,720.60 634.43,720.60 635.15,720.60 C635.87,720.60 636.59,720.60 637.32,720.60 C638.04,720.60 638.76,720.60 639.48,720.60 C640.20,720.60 640.92,720.60 641.64,720.60 C642.37,720.60 643.09,720.60 643.81,720.60 C644.53,720.60 645.25,720.60 645.98,720.60 C646.70,720.60 647.42,720.60 648.14,720.60 C648.86,720.60 649.58,720.60 650.31,720.60 C651.03,720.60 651.75,720.60 652.47,720.60 C653.19,720.60 653.91,720.60 654.63,720.60 C655.36,720.60 656.08,720.60 656.80,720.60 C657.52,720.60 658.24,720.60 658.97,720.60 C659.69,720.60 660.41,720.60 661.13,720.60 C661.85,720.60 662.57,720.60 663.30,720.60 C664.02,720.60 664.74,720.60 665.46,720.60 C666.18,720.60 666.90,720.60 667.62,720.60 C668.35,720.60 669.07,720.60 669.79,720.60 C670.51,720.60 671.23,720.60 671.96,720.60 C672.68,720.60 673.40,720.60 674.12,720.60 C674.84,720.60 675.56,720.60 676.29,720.60 C677.01,720.60 677.73,720.60 678.45,720.60 C679.17,720.60 679.89,720.60 680.62,720.60 C681.34,720.60 682.06,720.60 682.78,720.60 C683.50,720.60 684.22,720.60 684.95,720.60 C685.67,720.60 686.39,720.60 687.11,720.60 C687.83,720.60 688.88,720.60 689.27,720.60 C689.67,720.60 689.46,720.60 689.50,720.60 L689.5,720.6 L411.6,720.6 Z" fill="#5BBF96" fill-opacity="0.25" stroke="none"/>
<path d="M411.60,720.60 C411.69,720.60 411.70,720.60 412.16,720.60 C412.61,720.60 413.60,720.60 414.32,720.60 C415.04,720.60 415.76,720.60 416.49,720.60 C417.21,720.60 417.93,720.60 418.65,720.60 C419.37,720.60 420.09,720.60 420.81,720.60 C421.54,720.60 422.26,720.60 422.98,720.60 C423.70,720.60 424.42,720.60 425.14,720.60 C425.87,720.60 426.59,720.60 427.31,720.59 C428.03,720.59 428.75,720.59 429.48,720.59 C430.20,720.59 430.92,720.59 431.64,720.59 C432.36,720.59 433.08,720.58 433.81,720.58 C434.53,720.58 435.25,720.57 435.97,720.57 C436.69,720.56 437.41,720.56 438.13,720.55 C438.86,720.55 439.58,720.54 440.30,720.53 C441.02,720.52 441.74,720.51 442.47,720.49 C443.19,720.48 443.91,720.46 444.63,720.44 C445.35,720.42 446.07,720.40 446.80,720.37 C447.52,720.34 448.24,720.31 448.96,720.27 C449.68,720.23 450.40,720.18 451.12,720.12 C451.85,720.07 452.57,720.01 453.29,719.93 C454.01,719.85 454.73,719.76 455.46,719.66 C456.18,719.55 456.90,719.43 457.62,719.29 C458.34,719.15 459.06,718.99 459.79,718.80 C460.51,718.61 461.23,718.40 461.95,718.15 C462.67,717.90 463.39,717.63 464.12,717.30 C464.84,716.98 465.56,716.62 466.28,716.20 C467.00,715.78 467.72,715.33 468.44,714.80 C469.17,714.27 469.89,713.69 470.61,713.03 C471.33,712.38 472.05,711.66 472.78,710.85 C473.50,710.04 474.22,709.16 474.94,708.19 C475.66,707.22 476.38,706.17 477.11,705.01 C477.83,703.86 478.55,702.62 479.27,701.29 C479.99,699.96 480.71,698.53 481.44,697.01 C482.16,695.50 482.88,693.89 483.60,692.20 C484.32,690.52 485.04,688.75 485.76,686.93 C486.49,685.10 487.21,683.20 487.93,681.27 C488.65,679.34 489.37,677.35 490.10,675.36 C490.82,673.38 491.54,671.34 492.26,669.35 C492.98,667.36 493.70,665.36 494.43,663.42 C495.15,661.48 495.87,659.56 496.59,657.73 C497.31,655.91 498.03,654.13 498.75,652.47 C499.48,650.81 500.20,649.23 500.92,647.78 C501.64,646.34 502.36,644.99 503.09,643.80 C503.81,642.61 504.53,641.54 505.25,640.63 C505.97,639.72 506.69,638.94 507.42,638.33 C508.14,637.71 508.86,637.24 509.58,636.93 C510.30,636.61 511.02,636.45 511.75,636.44 C512.47,636.42 513.19,636.56 513.91,636.83 C514.63,637.11 515.35,637.53 516.08,638.08 C516.80,638.62 517.52,639.31 518.24,640.11 C518.96,640.91 519.68,641.85 520.40,642.87 C521.13,643.90 521.85,645.05 522.57,646.28 C523.29,647.51 524.01,648.84 524.74,650.24 C525.46,651.63 526.18,653.13 526.90,654.66 C527.62,656.19 528.34,657.80 529.07,659.43 C529.79,661.06 530.51,662.75 531.23,664.45 C531.95,666.14 532.67,667.88 533.39,669.60 C534.12,671.32 534.84,673.06 535.56,674.78 C536.28,676.49 537.00,678.21 537.73,679.88 C538.45,681.56 539.17,683.21 539.89,684.82 C540.61,686.42 541.33,688.00 542.06,689.51 C542.78,691.02 543.50,692.49 544.22,693.90 C544.94,695.30 545.66,696.64 546.38,697.92 C547.11,699.20 547.83,700.42 548.55,701.56 C549.27,702.71 549.99,703.79 550.72,704.80 C551.44,705.82 552.16,706.76 552.88,707.64 C553.60,708.52 554.32,709.34 555.05,710.10 C555.77,710.85 556.49,711.54 557.21,712.18 C557.93,712.82 558.65,713.40 559.38,713.93 C560.10,714.47 560.82,714.94 561.54,715.38 C562.26,715.82 562.98,716.21 563.71,716.56 C564.43,716.92 565.15,717.23 565.87,717.51 C566.59,717.80 567.31,718.04 568.03,718.27 C568.76,718.49 569.48,718.68 570.20,718.86 C570.92,719.03 571.64,719.18 572.37,719.31 C573.09,719.45 573.81,719.56 574.53,719.66 C575.25,719.76 575.97,719.85 576.70,719.92 C577.42,720.00 578.14,720.06 578.86,720.12 C579.58,720.17 580.30,720.22 581.02,720.26 C581.75,720.30 582.47,720.33 583.19,720.36 C583.91,720.39 584.63,720.42 585.36,720.44 C586.08,720.46 586.80,720.47 587.52,720.49 C588.24,720.50 588.96,720.52 589.68,720.53 C590.41,720.54 591.13,720.54 591.85,720.55 C592.57,720.56 593.29,720.56 594.01,720.57 C594.74,720.57 595.46,720.58 596.18,720.58 C596.90,720.58 597.62,720.58 598.35,720.59 C599.07,720.59 599.79,720.59 600.51,720.59 C601.23,720.59 601.95,720.59 602.67,720.59 C603.40,720.60 604.12,720.60 604.84,720.60 C605.56,720.60 606.28,720.60 607.00,720.60 C607.73,720.60 608.45,720.60 609.17,720.60 C609.89,720.60 610.61,720.60 611.34,720.60 C612.06,720.60 612.78,720.60 613.50,720.60 C614.22,720.60 614.94,720.60 615.66,720.60 C616.39,720.60 617.11,720.60 617.83,720.60 C618.55,720.60 619.27,720.60 620.00,720.60 C620.72,720.60 621.44,720.60 622.16,720.60 C622.88,720.60 623.60,720.60 624.33,720.60 C625.05,720.60 625.77,720.60 626.49,720.60 C627.21,720.60 627.93,720.60 628.65,720.60 C629.38,720.60 630.10,720.60 630.82,720.60 C631.54,720.60 632.26,720.60 632.99,720.60 C633.71,720.60 634.43,720.60 635.15,720.60 C635.87,720.60 636.59,720.60 637.32,720.60 C638.04,720.60 638.76,720.60 639.48,720.60 C640.20,720.60 640.92,720.60 641.64,720.60 C642.37,720.60 643.09,720.60 643.81,720.60 C644.53,720.60 645.25,720.60 645.98,720.60 C646.70,720.60 647.42,720.60 648.14,720.60 C648.86,720.60 649.58,720.60 650.31,720.60 C651.03,720.60 651.75,720.60 652.47,720.60 C653.19,720.60 653.91,720.60 654.63,720.60 C655.36,720.60 656.08,720.60 656.80,720.60 C657.52,720.60 658.24,720.60 658.97,720.60 C659.69,720.60 660.41,720.60 661.13,720.60 C661.85,720.60 662.57,720.60 663.30,720.60 C664.02,720.60 664.74,720.60 665.46,720.60 C666.18,720.60 666.90,720.60 667.62,720.60 C668.35,720.60 669.07,720.60 669.79,720.60 C670.51,720.60 671.23,720.60 671.96,720.60 C672.68,720.60 673.40,720.60 674.12,720.60 C674.84,720.60 675.56,720.60 676.29,720.60 C677.01,720.60 677.73,720.60 678.45,720.60 C679.17,720.60 679.89,720.60 680.62,720.60 C681.34,720.60 682.06,720.60 682.78,720.60 C683.50,720.60 684.22,720.60 684.95,720.60 C685.67,720.60 686.39,720.60 687.11,720.60 C687.83,720.60 688.88,720.60 689.27,720.60 C689.67,720.60 689.46,720.60 689.50,720.60" fill="none" stroke="#5BBF96" stroke-width="1.5" stroke-linejoin="round"/>
<path d="M411.60,720.60 C411.69,720.60 411.70,720.60 412.16,720.60 C412.61,720.60 413.60,720.60 414.32,720.60 C415.04,720.60 415.76,720.60 416.49,720.60 C417.21,720.60 417.93,720.60 418.65,720.60 C419.37,720.60 420.09,720.60 420.81,720.60 C421.54,720.60 422.26,720.60 422.98,720.60 C423.70,720.60 424.42,720.60 425.14,720.60 C425.87,720.60 426.59,720.60 427.31,720.60 C428.03,720.60 428.75,720.60 429.48,720.60 C430.20,720.60 430.92,720.60 431.64,720.60 C432.36,720.60 433.08,720.60 433.81,720.60 C434.53,720.60 435.25,720.60 435.97,720.60 C436.69,720.60 437.41,720.60 438.13,720.60 C438.86,720.60 439.58,720.60 440.30,720.60 C441.02,720.60 441.74,720.60 442.47,720.60 C443.19,720.60 443.91,720.60 444.63,720.60 C445.35,720.60 446.07,720.60 446.80,720.60 C447.52,720.60 448.24,720.60 448.96,720.60 C449.68,720.60 450.40,720.60 451.12,720.60 C451.85,720.60 452.57,720.60 453.29,720.60 C454.01,720.59 454.73,720.59 455.46,720.59 C456.18,720.59 456.90,720.59 457.62,720.59 C458.34,720.59 459.06,720.59 459.79,720.58 C460.51,720.58 461.23,720.58 461.95,720.58 C462.67,720.57 463.39,720.57 464.12,720.57 C464.84,720.56 465.56,720.56 466.28,720.55 C467.00,720.55 467.72,720.54 468.44,720.53 C469.17,720.52 469.89,720.51 470.61,720.50 C471.33,720.49 472.05,720.48 472.78,720.46 C473.50,720.44 474.22,720.43 474.94,720.40 C475.66,720.38 476.38,720.36 477.11,720.33 C477.83,720.30 478.55,720.27 479.27,720.23 C479.99,720.19 480.71,720.14 481.44,720.09 C482.16,720.04 482.88,719.98 483.60,719.91 C484.32,719.84 485.04,719.77 485.76,719.68 C486.49,719.59 487.21,719.50 487.93,719.38 C488.65,719.27 489.37,719.15 490.10,719.00 C490.82,718.86 491.54,718.70 492.26,718.52 C492.98,718.34 493.70,718.15 494.43,717.93 C495.15,717.70 495.87,717.46 496.59,717.19 C497.31,716.91 498.03,716.62 498.75,716.28 C499.48,715.95 500.20,715.59 500.92,715.19 C501.64,714.79 502.36,714.36 503.09,713.88 C503.81,713.40 504.53,712.89 505.25,712.33 C505.97,711.77 506.69,711.17 507.42,710.52 C508.14,709.86 508.86,709.17 509.58,708.41 C510.30,707.66 511.02,706.86 511.75,706.00 C512.47,705.14 513.19,704.23 513.91,703.27 C514.63,702.30 515.35,701.28 516.08,700.20 C516.80,699.12 517.52,697.98 518.24,696.79 C518.96,695.61 519.68,694.36 520.40,693.06 C521.13,691.77 521.85,690.42 522.57,689.03 C523.29,687.63 524.01,686.19 524.74,684.71 C525.46,683.23 526.18,681.71 526.90,680.16 C527.62,678.62 528.34,677.03 529.07,675.44 C529.79,673.85 530.51,672.23 531.23,670.63 C531.95,669.02 532.67,667.40 533.39,665.81 C534.12,664.22 534.84,662.63 535.56,661.10 C536.28,659.57 537.00,658.05 537.73,656.61 C538.45,655.17 539.17,653.77 539.89,652.46 C540.61,651.16 541.33,649.91 542.06,648.78 C542.78,647.65 543.50,646.61 544.22,645.69 C544.94,644.77 545.66,643.95 546.38,643.27 C547.11,642.59 547.83,642.03 548.55,641.61 C549.27,641.19 549.99,640.90 550.72,640.76 C551.44,640.61 552.16,640.61 552.88,640.74 C553.60,640.87 554.32,641.15 555.05,641.54 C555.77,641.94 556.49,642.48 557.21,643.13 C557.93,643.78 558.65,644.56 559.38,645.44 C560.10,646.31 560.82,647.31 561.54,648.38 C562.26,649.45 562.98,650.63 563.71,651.87 C564.43,653.10 565.15,654.43 565.87,655.79 C566.59,657.15 567.31,658.58 568.03,660.04 C568.76,661.49 569.48,663.00 570.20,664.51 C570.92,666.02 571.64,667.57 572.37,669.11 C573.09,670.64 573.81,672.20 574.53,673.74 C575.25,675.27 575.97,676.81 576.70,678.32 C577.42,679.83 578.14,681.33 578.86,682.79 C579.58,684.24 580.30,685.68 581.02,687.07 C581.75,688.47 582.47,689.83 583.19,691.14 C583.91,692.45 584.63,693.72 585.36,694.93 C586.08,696.15 586.80,697.32 587.52,698.44 C588.24,699.56 588.96,700.62 589.68,701.64 C590.41,702.65 591.13,703.61 591.85,704.52 C592.57,705.43 593.29,706.28 594.01,707.09 C594.74,707.89 595.46,708.64 596.18,709.35 C596.90,710.05 597.62,710.71 598.35,711.32 C599.07,711.93 599.79,712.49 600.51,713.01 C601.23,713.53 601.95,714.01 602.67,714.45 C603.40,714.89 604.12,715.30 604.84,715.67 C605.56,716.04 606.28,716.37 607.00,716.68 C607.73,716.98 608.45,717.26 609.17,717.51 C609.89,717.76 610.61,717.98 611.34,718.19 C612.06,718.39 612.78,718.57 613.50,718.73 C614.22,718.90 614.94,719.04 615.66,719.17 C616.39,719.30 617.11,719.41 617.83,719.51 C618.55,719.62 619.27,719.70 620.00,719.78 C620.72,719.86 621.44,719.93 622.16,719.99 C622.88,720.05 623.60,720.10 624.33,720.15 C625.05,720.20 625.77,720.24 626.49,720.27 C627.21,720.31 627.93,720.34 628.65,720.36 C629.38,720.39 630.10,720.41 630.82,720.43 C631.54,720.45 632.26,720.46 632.99,720.48 C633.71,720.49 634.43,720.50 635.15,720.51 C635.87,720.52 636.59,720.53 637.32,720.54 C638.04,720.55 638.76,720.55 639.48,720.56 C640.20,720.56 640.92,720.57 641.64,720.57 C642.37,720.58 643.09,720.58 643.81,720.58 C644.53,720.58 645.25,720.59 645.98,720.59 C646.70,720.59 647.42,720.59 648.14,720.59 C648.86,720.59 649.58,720.59 650.31,720.59 C651.03,720.60 651.75,720.60 652.47,720.60 C653.19,720.60 653.91,720.60 654.63,720.60 C655.36,720.60 656.08,720.60 656.80,720.60 C657.52,720.60 658.24,720.60 658.97,720.60 C659.69,720.60 660.41,720.60 661.13,720.60 C661.85,720.60 662.57,720.60 663.30,720.60 C664.02,720.60 664.74,720.60 665.46,720.60 C666.18,720.60 666.90,720.60 667.62,720.60 C668.35,720.60 669.07,720.60 669.79,720.60 C670.51,720.60 671.23,720.60 671.96,720.60 C672.68,720.60 673.40,720.60 674.12,720.60 C674.84,720.60 675.56,720.60 676.29,720.60 C677.01,720.60 677.73,720.60 678.45,720.60 C679.17,720.60 679.89,720.60 680.62,720.60 C681.34,720.60 682.06,720.60 682.78,720.60 C683.50,720.60 684.22,720.60 684.95,720.60 C685.67,720.60 686.39,720.60 687.11,720.60 C687.83,720.60 688.88,720.60 689.27,720.60 C689.67,720.60 689.46,720.60 689.50,720.60 L689.5,720.6 L411.6,720.6 Z" fill="#4A3E8E" fill-opacity="0.25" stroke="none"/>
<path d="M411.60,720.60 C411.69,720.60 411.70,720.60 412.16,720.60 C412.61,720.60 413.60,720.60 414.32,720.60 C415.04,720.60 415.76,720.60 416.49,720.60 C417.21,720.60 417.93,720.60 418.65,720.60 C419.37,720.60 420.09,720.60 420.81,720.60 C421.54,720.60 422.26,720.60 422.98,720.60 C423.70,720.60 424.42,720.60 425.14,720.60 C425.87,720.60 426.59,720.60 427.31,720.60 C428.03,720.60 428.75,720.60 429.48,720.60 C430.20,720.60 430.92,720.60 431.64,720.60 C432.36,720.60 433.08,720.60 433.81,720.60 C434.53,720.60 435.25,720.60 435.97,720.60 C436.69,720.60 437.41,720.60 438.13,720.60 C438.86,720.60 439.58,720.60 440.30,720.60 C441.02,720.60 441.74,720.60 442.47,720.60 C443.19,720.60 443.91,720.60 444.63,720.60 C445.35,720.60 446.07,720.60 446.80,720.60 C447.52,720.60 448.24,720.60 448.96,720.60 C449.68,720.60 450.40,720.60 451.12,720.60 C451.85,720.60 452.57,720.60 453.29,720.60 C454.01,720.59 454.73,720.59 455.46,720.59 C456.18,720.59 456.90,720.59 457.62,720.59 C458.34,720.59 459.06,720.59 459.79,720.58 C460.51,720.58 461.23,720.58 461.95,720.58 C462.67,720.57 463.39,720.57 464.12,720.57 C464.84,720.56 465.56,720.56 466.28,720.55 C467.00,720.55 467.72,720.54 468.44,720.53 C469.17,720.52 469.89,720.51 470.61,720.50 C471.33,720.49 472.05,720.48 472.78,720.46 C473.50,720.44 474.22,720.43 474.94,720.40 C475.66,720.38 476.38,720.36 477.11,720.33 C477.83,720.30 478.55,720.27 479.27,720.23 C479.99,720.19 480.71,720.14 481.44,720.09 C482.16,720.04 482.88,719.98 483.60,719.91 C484.32,719.84 485.04,719.77 485.76,719.68 C486.49,719.59 487.21,719.50 487.93,719.38 C488.65,719.27 489.37,719.15 490.10,719.00 C490.82,718.86 491.54,718.70 492.26,718.52 C492.98,718.34 493.70,718.15 494.43,717.93 C495.15,717.70 495.87,717.46 496.59,717.19 C497.31,716.91 498.03,716.62 498.75,716.28 C499.48,715.95 500.20,715.59 500.92,715.19 C501.64,714.79 502.36,714.36 503.09,713.88 C503.81,713.40 504.53,712.89 505.25,712.33 C505.97,711.77 506.69,711.17 507.42,710.52 C508.14,709.86 508.86,709.17 509.58,708.41 C510.30,707.66 511.02,706.86 511.75,706.00 C512.47,705.14 513.19,704.23 513.91,703.27 C514.63,702.30 515.35,701.28 516.08,700.20 C516.80,699.12 517.52,697.98 518.24,696.79 C518.96,695.61 519.68,694.36 520.40,693.06 C521.13,691.77 521.85,690.42 522.57,689.03 C523.29,687.63 524.01,686.19 524.74,684.71 C525.46,683.23 526.18,681.71 526.90,680.16 C527.62,678.62 528.34,677.03 529.07,675.44 C529.79,673.85 530.51,672.23 531.23,670.63 C531.95,669.02 532.67,667.40 533.39,665.81 C534.12,664.22 534.84,662.63 535.56,661.10 C536.28,659.57 537.00,658.05 537.73,656.61 C538.45,655.17 539.17,653.77 539.89,652.46 C540.61,651.16 541.33,649.91 542.06,648.78 C542.78,647.65 543.50,646.61 544.22,645.69 C544.94,644.77 545.66,643.95 546.38,643.27 C547.11,642.59 547.83,642.03 548.55,641.61 C549.27,641.19 549.99,640.90 550.72,640.76 C551.44,640.61 552.16,640.61 552.88,640.74 C553.60,640.87 554.32,641.15 555.05,641.54 C555.77,641.94 556.49,642.48 557.21,643.13 C557.93,643.78 558.65,644.56 559.38,645.44 C560.10,646.31 560.82,647.31 561.54,648.38 C562.26,649.45 562.98,650.63 563.71,651.87 C564.43,653.10 565.15,654.43 565.87,655.79 C566.59,657.15 567.31,658.58 568.03,660.04 C568.76,661.49 569.48,663.00 570.20,664.51 C570.92,666.02 571.64,667.57 572.37,669.11 C573.09,670.64 573.81,672.20 574.53,673.74 C575.25,675.27 575.97,676.81 576.70,678.32 C577.42,679.83 578.14,681.33 578.86,682.79 C579.58,684.24 580.30,685.68 581.02,687.07 C581.75,688.47 582.47,689.83 583.19,691.14 C583.91,692.45 584.63,693.72 585.36,694.93 C586.08,696.15 586.80,697.32 587.52,698.44 C588.24,699.56 588.96,700.62 589.68,701.64 C590.41,702.65 591.13,703.61 591.85,704.52 C592.57,705.43 593.29,706.28 594.01,707.09 C594.74,707.89 595.46,708.64 596.18,709.35 C596.90,710.05 597.62,710.71 598.35,711.32 C599.07,711.93 599.79,712.49 600.51,713.01 C601.23,713.53 601.95,714.01 602.67,714.45 C603.40,714.89 604.12,715.30 604.84,715.67 C605.56,716.04 606.28,716.37 607.00,716.68 C607.73,716.98 608.45,717.26 609.17,717.51 C609.89,717.76 610.61,717.98 611.34,718.19 C612.06,718.39 612.78,718.57 613.50,718.73 C614.22,718.90 614.94,719.04 615.66,719.17 C616.39,719.30 617.11,719.41 617.83,719.51 C618.55,719.62 619.27,719.70 620.00,719.78 C620.72,719.86 621.44,719.93 622.16,719.99 C622.88,720.05 623.60,720.10 624.33,720.15 C625.05,720.20 625.77,720.24 626.49,720.27 C627.21,720.31 627.93,720.34 628.65,720.36 C629.38,720.39 630.10,720.41 630.82,720.43 C631.54,720.45 632.26,720.46 632.99,720.48 C633.71,720.49 634.43,720.50 635.15,720.51 C635.87,720.52 636.59,720.53 637.32,720.54 C638.04,720.55 638.76,720.55 639.48,720.56 C640.20,720.56 640.92,720.57 641.64,720.57 C642.37,720.58 643.09,720.58 643.81,720.58 C644.53,720.58 645.25,720.59 645.98,720.59 C646.70,720.59 647.42,720.59 648.14,720.59 C648.86,720.59 649.58,720.59 650.31,720.59 C651.03,720.60 651.75,720.60 652.47,720.60 C653.19,720.60 653.91,720.60 654.63,720.60 C655.36,720.60 656.08,720.60 656.80,720.60 C657.52,720.60 658.24,720.60 658.97,720.60 C659.69,720.60 660.41,720.60 661.13,720.60 C661.85,720.60 662.57,720.60 663.30,720.60 C664.02,720.60 664.74,720.60 665.46,720.60 C666.18,720.60 666.90,720.60 667.62,720.60 C668.35,720.60 669.07,720.60 669.79,720.60 C670.51,720.60 671.23,720.60 671.96,720.60 C672.68,720.60 673.40,720.60 674.12,720.60 C674.84,720.60 675.56,720.60 676.29,720.60 C677.01,720.60 677.73,720.60 678.45,720.60 C679.17,720.60 679.89,720.60 680.62,720.60 C681.34,720.60 682.06,720.60 682.78,720.60 C683.50,720.60 684.22,720.60 684.95,720.60 C685.67,720.60 686.39,720.60 687.11,720.60 C687.83,720.60 688.88,720.60 689.27,720.60 C689.67,720.60 689.46,720.60 689.50,720.60" fill="none" stroke="#4A3E8E" stroke-width="1.5" stroke-linejoin="round"/>
<path d="M411.60,720.60 C411.69,720.60 411.70,720.60 412.16,720.60 C412.61,720.60 413.60,720.60 414.32,720.60 C415.04,720.60 415.76,720.60 416.49,720.60 C417.21,720.60 417.93,720.60 418.65,720.60 C419.37,720.60 420.09,720.60 420.81,720.60 C421.54,720.60 422.26,720.60 422.98,720.60 C423.70,720.60 424.42,720.60 425.14,720.60 C425.87,720.60 426.59,720.60 427.31,720.60 C428.03,720.60 428.75,720.60 429.48,720.60 C430.20,720.60 430.92,720.60 431.64,720.60 C432.36,720.60 433.08,720.60 433.81,720.60 C434.53,720.60 435.25,720.60 435.97,720.60 C436.69,720.60 437.41,720.60 438.13,720.60 C438.86,720.60 439.58,720.60 440.30,720.60 C441.02,720.60 441.74,720.60 442.47,720.60 C443.19,720.60 443.91,720.60 444.63,720.60 C445.35,720.60 446.07,720.60 446.80,720.60 C447.52,720.60 448.24,720.60 448.96,720.60 C449.68,720.60 450.40,720.60 451.12,720.60 C451.85,720.60 452.57,720.60 453.29,720.60 C454.01,720.60 454.73,720.60 455.46,720.60 C456.18,720.60 456.90,720.60 457.62,720.60 C458.34,720.60 459.06,720.60 459.79,720.60 C460.51,720.60 461.23,720.60 461.95,720.60 C462.67,720.60 463.39,720.60 464.12,720.60 C464.84,720.60 465.56,720.60 466.28,720.60 C467.00,720.60 467.72,720.60 468.44,720.60 C469.17,720.60 469.89,720.60 470.61,720.60 C471.33,720.60 472.05,720.60 472.78,720.60 C473.50,720.60 474.22,720.60 474.94,720.60 C475.66,720.60 476.38,720.60 477.11,720.60 C477.83,720.60 478.55,720.60 479.27,720.60 C479.99,720.60 480.71,720.60 481.44,720.60 C482.16,720.60 482.88,720.60 483.60,720.60 C484.32,720.60 485.04,720.60 485.76,720.60 C486.49,720.60 487.21,720.60 487.93,720.60 C488.65,720.60 489.37,720.60 490.10,720.60 C490.82,720.60 491.54,720.60 492.26,720.60 C492.98,720.60 493.70,720.60 494.43,720.60 C495.15,720.60 495.87,720.60 496.59,720.60 C497.31,720.60 498.03,720.60 498.75,720.60 C499.48,720.60 500.20,720.60 500.92,720.60 C501.64,720.60 502.36,720.59 503.09,720.59 C503.81,720.59 504.53,720.59 505.25,720.59 C505.97,720.59 506.69,720.58 507.42,720.58 C508.14,720.58 508.86,720.57 509.58,720.56 C510.30,720.56 511.02,720.55 511.75,720.54 C512.47,720.53 513.19,720.52 513.91,720.50 C514.63,720.49 515.35,720.47 516.08,720.45 C516.80,720.42 517.52,720.40 518.24,720.36 C518.96,720.33 519.68,720.29 520.40,720.24 C521.13,720.19 521.85,720.13 522.57,720.06 C523.29,719.98 524.01,719.90 524.74,719.80 C525.46,719.70 526.18,719.59 526.90,719.45 C527.62,719.32 528.34,719.17 529.07,718.99 C529.79,718.81 530.51,718.61 531.23,718.38 C531.95,718.14 532.67,717.89 533.39,717.59 C534.12,717.30 534.84,716.98 535.56,716.62 C536.28,716.26 537.00,715.86 537.73,715.42 C538.45,714.99 539.17,714.51 539.89,714.00 C540.61,713.49 541.33,712.93 542.06,712.34 C542.78,711.74 543.50,711.11 544.22,710.43 C544.94,709.76 545.66,709.05 546.38,708.30 C547.11,707.56 547.83,706.77 548.55,705.96 C549.27,705.14 549.99,704.29 550.72,703.42 C551.44,702.54 552.16,701.64 552.88,700.71 C553.60,699.78 554.32,698.82 555.05,697.84 C555.77,696.86 556.49,695.86 557.21,694.83 C557.93,693.80 558.65,692.75 559.38,691.67 C560.10,690.60 560.82,689.50 561.54,688.36 C562.26,687.23 562.98,686.07 563.71,684.88 C564.43,683.68 565.15,682.45 565.87,681.19 C566.59,679.92 567.31,678.61 568.03,677.27 C568.76,675.92 569.48,674.53 570.20,673.11 C570.92,671.68 571.64,670.21 572.37,668.71 C573.09,667.21 573.81,665.66 574.53,664.10 C575.25,662.54 575.97,660.93 576.70,659.34 C577.42,657.75 578.14,656.12 578.86,654.54 C579.58,652.95 580.30,651.35 581.02,649.81 C581.75,648.28 582.47,646.75 583.19,645.33 C583.91,643.91 584.63,642.52 585.36,641.27 C586.08,640.02 586.80,638.84 587.52,637.82 C588.24,636.80 588.96,635.88 589.68,635.15 C590.41,634.41 591.13,633.82 591.85,633.41 C592.57,633.01 593.29,632.77 594.01,632.73 C594.74,632.69 595.46,632.84 596.18,633.18 C596.90,633.52 597.62,634.06 598.35,634.77 C599.07,635.49 599.79,636.40 600.51,637.48 C601.23,638.55 601.95,639.81 602.67,641.20 C603.40,642.60 604.12,644.17 604.84,645.83 C605.56,647.49 606.28,649.30 607.00,651.17 C607.73,653.05 608.45,655.04 609.17,657.06 C609.89,659.07 610.61,661.18 611.34,663.27 C612.06,665.37 612.78,667.52 613.50,669.63 C614.22,671.74 614.94,673.86 615.66,675.93 C616.39,677.99 617.11,680.04 617.83,682.02 C618.55,683.99 619.27,685.92 620.00,687.76 C620.72,689.60 621.44,691.37 622.16,693.05 C622.88,694.73 623.60,696.32 624.33,697.82 C625.05,699.32 625.77,700.73 626.49,702.04 C627.21,703.35 627.93,704.57 628.65,705.70 C629.38,706.83 630.10,707.86 630.82,708.81 C631.54,709.76 632.26,710.62 632.99,711.41 C633.71,712.19 634.43,712.89 635.15,713.53 C635.87,714.18 636.59,714.74 637.32,715.25 C638.04,715.76 638.76,716.20 639.48,716.61 C640.20,717.01 640.92,717.35 641.64,717.66 C642.37,717.97 643.09,718.24 643.81,718.47 C644.53,718.71 645.25,718.90 645.98,719.08 C646.70,719.26 647.42,719.40 648.14,719.53 C648.86,719.66 649.58,719.76 650.31,719.86 C651.03,719.95 651.75,720.03 652.47,720.09 C653.19,720.16 653.91,720.21 654.63,720.26 C655.36,720.30 656.08,720.34 656.80,720.37 C657.52,720.41 658.24,720.43 658.97,720.45 C659.69,720.47 660.41,720.49 661.13,720.50 C661.85,720.52 662.57,720.53 663.30,720.54 C664.02,720.55 664.74,720.56 665.46,720.56 C666.18,720.57 666.90,720.57 667.62,720.58 C668.35,720.58 669.07,720.58 669.79,720.59 C670.51,720.59 671.23,720.59 671.96,720.59 C672.68,720.59 673.40,720.59 674.12,720.59 C674.84,720.60 675.56,720.60 676.29,720.60 C677.01,720.60 677.73,720.60 678.45,720.60 C679.17,720.60 679.89,720.60 680.62,720.60 C681.34,720.60 682.06,720.60 682.78,720.60 C683.50,720.60 684.22,720.60 684.95,720.60 C685.67,720.60 686.39,720.60 687.11,720.60 C687.83,720.60 688.88,720.60 689.27,720.60 C689.67,720.60 689.46,720.60 689.50,720.60 L689.5,720.6 L411.6,720.6 Z" fill="#E07090" fill-opacity="0.25" stroke="none"/>
<path d="M411.60,720.60 C411.69,720.60 411.70,720.60 412.16,720.60 C412.61,720.60 413.60,720.60 414.32,720.60 C415.04,720.60 415.76,720.60 416.49,720.60 C417.21,720.60 417.93,720.60 418.65,720.60 C419.37,720.60 420.09,720.60 420.81,720.60 C421.54,720.60 422.26,720.60 422.98,720.60 C423.70,720.60 424.42,720.60 425.14,720.60 C425.87,720.60 426.59,720.60 427.31,720.60 C428.03,720.60 428.75,720.60 429.48,720.60 C430.20,720.60 430.92,720.60 431.64,720.60 C432.36,720.60 433.08,720.60 433.81,720.60 C434.53,720.60 435.25,720.60 435.97,720.60 C436.69,720.60 437.41,720.60 438.13,720.60 C438.86,720.60 439.58,720.60 440.30,720.60 C441.02,720.60 441.74,720.60 442.47,720.60 C443.19,720.60 443.91,720.60 444.63,720.60 C445.35,720.60 446.07,720.60 446.80,720.60 C447.52,720.60 448.24,720.60 448.96,720.60 C449.68,720.60 450.40,720.60 451.12,720.60 C451.85,720.60 452.57,720.60 453.29,720.60 C454.01,720.60 454.73,720.60 455.46,720.60 C456.18,720.60 456.90,720.60 457.62,720.60 C458.34,720.60 459.06,720.60 459.79,720.60 C460.51,720.60 461.23,720.60 461.95,720.60 C462.67,720.60 463.39,720.60 464.12,720.60 C464.84,720.60 465.56,720.60 466.28,720.60 C467.00,720.60 467.72,720.60 468.44,720.60 C469.17,720.60 469.89,720.60 470.61,720.60 C471.33,720.60 472.05,720.60 472.78,720.60 C473.50,720.60 474.22,720.60 474.94,720.60 C475.66,720.60 476.38,720.60 477.11,720.60 C477.83,720.60 478.55,720.60 479.27,720.60 C479.99,720.60 480.71,720.60 481.44,720.60 C482.16,720.60 482.88,720.60 483.60,720.60 C484.32,720.60 485.04,720.60 485.76,720.60 C486.49,720.60 487.21,720.60 487.93,720.60 C488.65,720.60 489.37,720.60 490.10,720.60 C490.82,720.60 491.54,720.60 492.26,720.60 C492.98,720.60 493.70,720.60 494.43,720.60 C495.15,720.60 495.87,720.60 496.59,720.60 C497.31,720.60 498.03,720.60 498.75,720.60 C499.48,720.60 500.20,720.60 500.92,720.60 C501.64,720.60 502.36,720.59 503.09,720.59 C503.81,720.59 504.53,720.59 505.25,720.59 C505.97,720.59 506.69,720.58 507.42,720.58 C508.14,720.58 508.86,720.57 509.58,720.56 C510.30,720.56 511.02,720.55 511.75,720.54 C512.47,720.53 513.19,720.52 513.91,720.50 C514.63,720.49 515.35,720.47 516.08,720.45 C516.80,720.42 517.52,720.40 518.24,720.36 C518.96,720.33 519.68,720.29 520.40,720.24 C521.13,720.19 521.85,720.13 522.57,720.06 C523.29,719.98 524.01,719.90 524.74,719.80 C525.46,719.70 526.18,719.59 526.90,719.45 C527.62,719.32 528.34,719.17 529.07,718.99 C529.79,718.81 530.51,718.61 531.23,718.38 C531.95,718.14 532.67,717.89 533.39,717.59 C534.12,717.30 534.84,716.98 535.56,716.62 C536.28,716.26 537.00,715.86 537.73,715.42 C538.45,714.99 539.17,714.51 539.89,714.00 C540.61,713.49 541.33,712.93 542.06,712.34 C542.78,711.74 543.50,711.11 544.22,710.43 C544.94,709.76 545.66,709.05 546.38,708.30 C547.11,707.56 547.83,706.77 548.55,705.96 C549.27,705.14 549.99,704.29 550.72,703.42 C551.44,702.54 552.16,701.64 552.88,700.71 C553.60,699.78 554.32,698.82 555.05,697.84 C555.77,696.86 556.49,695.86 557.21,694.83 C557.93,693.80 558.65,692.75 559.38,691.67 C560.10,690.60 560.82,689.50 561.54,688.36 C562.26,687.23 562.98,686.07 563.71,684.88 C564.43,683.68 565.15,682.45 565.87,681.19 C566.59,679.92 567.31,678.61 568.03,677.27 C568.76,675.92 569.48,674.53 570.20,673.11 C570.92,671.68 571.64,670.21 572.37,668.71 C573.09,667.21 573.81,665.66 574.53,664.10 C575.25,662.54 575.97,660.93 576.70,659.34 C577.42,657.75 578.14,656.12 578.86,654.54 C579.58,652.95 580.30,651.35 581.02,649.81 C581.75,648.28 582.47,646.75 583.19,645.33 C583.91,643.91 584.63,642.52 585.36,641.27 C586.08,640.02 586.80,638.84 587.52,637.82 C588.24,636.80 588.96,635.88 589.68,635.15 C590.41,634.41 591.13,633.82 591.85,633.41 C592.57,633.01 593.29,632.77 594.01,632.73 C594.74,632.69 595.46,632.84 596.18,633.18 C596.90,633.52 597.62,634.06 598.35,634.77 C599.07,635.49 599.79,636.40 600.51,637.48 C601.23,638.55 601.95,639.81 602.67,641.20 C603.40,642.60 604.12,644.17 604.84,645.83 C605.56,647.49 606.28,649.30 607.00,651.17 C607.73,653.05 608.45,655.04 609.17,657.06 C609.89,659.07 610.61,661.18 611.34,663.27 C612.06,665.37 612.78,667.52 613.50,669.63 C614.22,671.74 614.94,673.86 615.66,675.93 C616.39,677.99 617.11,680.04 617.83,682.02 C618.55,683.99 619.27,685.92 620.00,687.76 C620.72,689.60 621.44,691.37 622.16,693.05 C622.88,694.73 623.60,696.32 624.33,697.82 C625.05,699.32 625.77,700.73 626.49,702.04 C627.21,703.35 627.93,704.57 628.65,705.70 C629.38,706.83 630.10,707.86 630.82,708.81 C631.54,709.76 632.26,710.62 632.99,711.41 C633.71,712.19 634.43,712.89 635.15,713.53 C635.87,714.18 636.59,714.74 637.32,715.25 C638.04,715.76 638.76,716.20 639.48,716.61 C640.20,717.01 640.92,717.35 641.64,717.66 C642.37,717.97 643.09,718.24 643.81,718.47 C644.53,718.71 645.25,718.90 645.98,719.08 C646.70,719.26 647.42,719.40 648.14,719.53 C648.86,719.66 649.58,719.76 650.31,719.86 C651.03,719.95 651.75,720.03 652.47,720.09 C653.19,720.16 653.91,720.21 654.63,720.26 C655.36,720.30 656.08,720.34 656.80,720.37 C657.52,720.41 658.24,720.43 658.97,720.45 C659.69,720.47 660.41,720.49 661.13,720.50 C661.85,720.52 662.57,720.53 663.30,720.54 C664.02,720.55 664.74,720.56 665.46,720.56 C666.18,720.57 666.90,720.57 667.62,720.58 C668.35,720.58 669.07,720.58 669.79,720.59 C670.51,720.59 671.23,720.59 671.96,720.59 C672.68,720.59 673.40,720.59 674.12,720.59 C674.84,720.60 675.56,720.60 676.29,720.60 C677.01,720.60 677.73,720.60 678.45,720.60 C679.17,720.60 679.89,720.60 680.62,720.60 C681.34,720.60 682.06,720.60 682.78,720.60 C683.50,720.60 684.22,720.60 684.95,720.60 C685.67,720.60 686.39,720.60 687.11,720.60 C687.83,720.60 688.88,720.60 689.27,720.60 C689.67,720.60 689.46,720.60 689.50,720.60" fill="none" stroke="#E07090" stroke-width="1.5" stroke-linejoin="round"/>
</g>
<path d="M622.3,720.8 L622.3,593.2" stroke="#F00" stroke-width="2.3" stroke-dasharray="7.2,2.5"/>
<rect x="416.6" y="593.2" width="267.9" height="127.59999999999991" fill="none" stroke="#404040" stroke-width="1.6"/>
<path d="M412.3,720.70 L416.6,720.70" stroke="#222" stroke-width="1.1"/>
<text x="407.4" y="724.90" font-size="12" text-anchor="end" fill="#111">0.00</text>
<path d="M412.3,700.35 L416.6,700.35" stroke="#222" stroke-width="1.1"/>
<text x="407.4" y="704.55" font-size="12" text-anchor="end" fill="#111">0.01</text>
<path d="M412.3,680.00 L416.6,680.00" stroke="#222" stroke-width="1.1"/>
<text x="407.4" y="684.20" font-size="12" text-anchor="end" fill="#111">0.02</text>
<path d="M412.3,659.65 L416.6,659.65" stroke="#222" stroke-width="1.1"/>
<text x="407.4" y="663.85" font-size="12" text-anchor="end" fill="#111">0.03</text>
<path d="M412.3,639.30 L416.6,639.30" stroke="#222" stroke-width="1.1"/>
<text x="407.4" y="643.50" font-size="12" text-anchor="end" fill="#111">0.04</text>
<path d="M412.3,618.95 L416.6,618.95" stroke="#222" stroke-width="1.1"/>
<text x="407.4" y="623.15" font-size="12" text-anchor="end" fill="#111">0.05</text>
<path d="M412.3,598.60 L416.6,598.60" stroke="#222" stroke-width="1.1"/>
<text x="407.4" y="602.80" font-size="12" text-anchor="end" fill="#111">0.06</text>
<path d="M440.30,720.8 L440.30,725.0999999999999" stroke="#222" stroke-width="1.1"/>
<text x="440.30" y="737.8" font-size="11.2" text-anchor="middle" fill="#111">0</text>
<path d="M483.60,720.8 L483.60,725.0999999999999" stroke="#222" stroke-width="1.1"/>
<text x="483.60" y="737.8" font-size="11.2" text-anchor="middle" fill="#111">20</text>
<path d="M526.90,720.8 L526.90,725.0999999999999" stroke="#222" stroke-width="1.1"/>
<text x="526.90" y="737.8" font-size="11.2" text-anchor="middle" fill="#111">40</text>
<path d="M570.20,720.8 L570.20,725.0999999999999" stroke="#222" stroke-width="1.1"/>
<text x="570.20" y="737.8" font-size="11.2" text-anchor="middle" fill="#111">60</text>
<path d="M613.50,720.8 L613.50,725.0999999999999" stroke="#222" stroke-width="1.1"/>
<text x="613.50" y="737.8" font-size="11.2" text-anchor="middle" fill="#111">80</text>
<path d="M656.80,720.8 L656.80,725.0999999999999" stroke="#222" stroke-width="1.1"/>
<text x="656.80" y="737.8" font-size="11.2" text-anchor="middle" fill="#111">100</text>
<text x="546.1" y="754.7" font-size="12.2" text-anchor="middle" fill="#111">Shared Clones Between Body Sites (%)</text>
<text transform="translate(372.5,655.3) rotate(-90)" font-size="12" text-anchor="middle" fill="#111">Density</text>
<text x="419.1" y="586.6" font-size="17.5" font-weight="bold" fill="#000">All Wards</text>
<path d="M425.50,611.90 L431.71,611.90 M426.85,609.06 L430.36,614.74 M430.36,609.06 L426.85,614.74 M433.00,611.90 L439.21,611.90 M434.35,609.06 L437.86,614.74 M437.86,609.06 L434.35,614.74 M440.50,611.90 L446.71,611.90 M441.85,609.06 L445.36,614.74 M445.36,609.06 L441.85,614.74 M448.00,611.90 L454.21,611.90 M449.35,609.06 L452.86,614.74 M452.86,609.06 L449.35,614.74" stroke="#F08A4B" stroke-opacity="0.85" stroke-width="1.42" stroke-linecap="round" fill="none"/>
<path d="M497.00,625.00 L503.21,625.00 M498.35,622.16 L501.86,627.84 M501.86,622.16 L498.35,627.84 M504.50,625.00 L510.71,625.00 M505.85,622.16 L509.36,627.84 M509.36,622.16 L505.85,627.84 M512.00,625.00 L518.21,625.00 M513.35,622.16 L516.86,627.84 M516.86,622.16 L513.35,627.84 M519.50,625.00 L525.71,625.00 M520.85,622.16 L524.36,627.84 M524.36,622.16 L520.85,627.84" stroke="#5BBF96" stroke-opacity="0.85" stroke-width="1.42" stroke-linecap="round" fill="none"/>
<path d="M538.89,625.70 L545.11,625.70 M540.25,622.87 L543.75,628.54 M543.75,622.87 L540.25,628.54 M546.29,625.70 L552.50,625.70 M547.64,622.87 L551.15,628.54 M551.15,622.87 L547.64,628.54 M553.69,625.70 L559.90,625.70 M555.04,622.87 L558.55,628.54 M558.55,622.87 L555.04,628.54" stroke="#4A3E8E" stroke-opacity="0.85" stroke-width="1.42" stroke-linecap="round" fill="none"/>
<text x="592.8" y="627.2" font-size="12.2" text-anchor="middle" fill="#E07090" fill-opacity="0.9">ns</text>
</svg></body></html>
